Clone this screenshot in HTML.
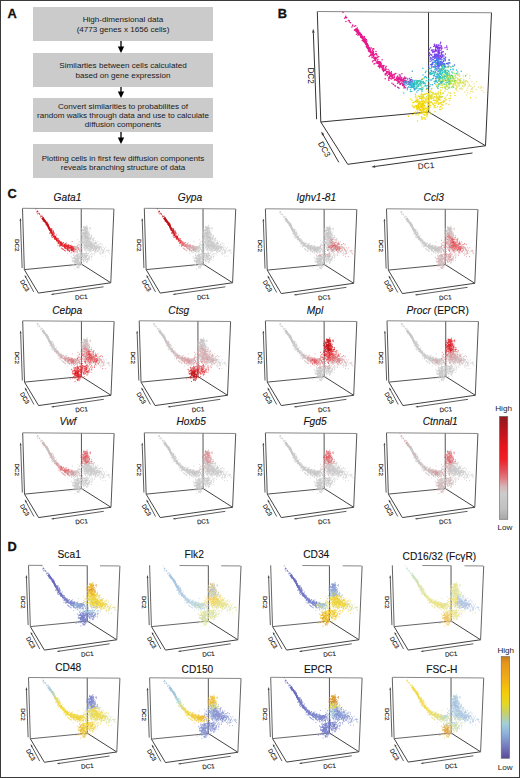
<!DOCTYPE html>
<html><head><meta charset="utf-8"><title>Figure</title>
<style>
html,body{margin:0;padding:0;background:#fff;}
body{width:520px;height:778px;overflow:hidden;font-family:"Liberation Sans",sans-serif;}
.frame{position:absolute;left:0;top:0;width:518px;height:776px;border:1px solid #3a3a3a;}
svg{position:absolute;left:0;top:0;display:block;}
</style></head><body>
<svg width="520" height="778" viewBox="0 0 520 778" font-family="Liberation Sans, sans-serif"><defs><path id="a1_2" d="M33.3 11.3h0m5.8 6.6h0m0.9-1.3h0m-2.8 1.8h0m1.3-0.7h0m0.4 0.3h0m0.5-0.8h0"/><path id="a1_1" d="M38.4 14.2h0m-1.4 0.6h0m-1.7-0.5h0m-3.2-3.9h0m6.3 7.3h0"/><path id="a1_0" d="M35.5 13.5h0m-0.9 2.1h0m3.6 2.7h0m0.4-0.3h0m-1.3 0.8h0m1.4-0.5h0"/><path id="a0_0" d="M28.4 4.8h0m-2.7-3.7h0"/><path id="a0_2" d="M29.4 6h0m1.7 3h0m-2-2.8h0m-1.7 0.6h0m0.8-1.1h0"/><path id="a0_1" d="M28.6 10.1h0m3.5-0.8h0"/><path id="a3_0" d="M49 35.3h0m-1.6-4.4h0m1.3 0.5h0m2.1 4.7h0m-3.1-4.6h0m-1.2-2.1h0m1.4 1.4h0m1.7 2.3h0m0.6 3.2h0m-0.5-1.5h0m-2.7-7.1h0m3 6.8h0m-2-4.1h0m-1.6-3.7h0m0.9 3h0m1.5 3.2h0m-1.8-5.1h0m-0.2 1.4h0m2 1.6h0m-1-0.4h0m2.4 3.8h0m-1.9-3.2h0m1.5 2.1h0m-2.6-3.8h0m2.4 3.1h0m-2.7-4.7h0m3.2 5.1h0"/><path id="a2_2" d="M44.4 25h0m-4.1-4.3h0m5.4 5.2h0m-0.5-0.8h0m-6.1-5.2h0m0.8 0.5h0m1.3 0.9h0m3.3 3.5h0m0.7 0.6h0m-5.1-5.5h0m4.1 4.4h0m-3.2-4.2h0m0.9 0.9h0m1.6 3.4h0m-4.2-5.7h0m3.5 3.3h0m-1.1-0.7h0m-0.1 0.4h0m0.5 0.7h0m-1.2-1h0m0.1 0h0m3.1 1.7h0m-0.6 0.4h0m-4.6-3.5h0m4.9 3.7h0m-2.5-3.5h0m4.5 6.3h0m-2.3-0.7h0m-3.1-5.8h0m1.5 1.5h0m1.4 2.7h0m0.5-1.4h0m-3.3-4.8h0m2.7 5.6h0m-1.7-2.7h0m4.2 4.9h0m-2.4 0h0m-2.4-6.5h0"/><path id="a4_1" d="M52.3 38.4h0m0.2-0.4h0m-1.3-2h0m1 2.1h0m0.1-1h0m-1.4-0.4h0m0.5-0.8h0m0.1 1.2h0m1.2 0.8h0m-1.4-0.9h0m1.1 0.1h0m-1.9-0.6h0m0.6 0.4h0m-0.1-0.7h0m-0.4 0.7h0m2 2.5h0m-1 0.5h0m4.6 4.8h0m-1.5 1.5h0m-3.1-6.2h0m3.7-0.6h0m0.1 0h0m-1.7 0.9h0m-0.3 0.9h0m5.9 1.4h0m-4.1 3.2h0m1-5.4h0m0.4-3h0m2.6 5.8h0m-4.1-1.5h0m-1.6 1.3h0m-1.1-2.8h0"/><path id="a3_2" d="M47.2 29.6h0m1.1 1.9h0m1.5 4.2h0m-0.7-7.7h0m-3.3-1.2h0m-0.2 2.4h0m3.3 1.5h0m-4-1.8h0m3.6 2.8h0m-2.4-3.6h0m4.3 5.8h0m-0.4-1.8h0m-3.2-4.3h0m1.3 1.1h0m0.8 2.4h0m0.4 1h0m-1.8-2.4h0m-0.5-4.1h0m2.7 3.7h0m-0.3 4.1h0m1.2 0.9h0m-1.3 0.3h0m-2.5-5h0m1.8 1.7h0m1.6 4.6h0m0-1.9h0m-2.7-5.2h0m-0.7 1.4h0m0.6 0.3h0m0-2h0m2.5 6.6h0m-2.1-7.5h0m0.9 1.9h0m-0.1 1.7h0m-3-2.5h0m4.3 5.5h0m-2.2-3.4h0"/><path id="a3_1" d="M48 29.7h0m-0.9-1.1h0m0.5 0.8h0m2.5 3.9h0m-0.3-0.2h0m0.5 1.5h0m-2.4-4.2h0m-2.2-2.3h0m0.7 1.5h0m1.5-2.5h0m0.9 6.2h0m1.9 1.8h0m-2.6-3.9h0m-0.7-0.4h0m-0.8-2.4h0m3.1 6.5h0m-2.1-4.9h0m-0.3-0.9h0m3 5.1h0m0.3 1.4h0m-0.8-2.1h0m-2-2.7h0m0.9 0.1h0m1.8 3.9h0m0.5-0.9h0m-2.5-1.1h0m1.8 3.4h0m-1.3-5.7h0m-0.1 0.4h0m1.5 2.1h0m0 2.1h0m-1-3h0m1 1.3h0m0.5 1.2h0m-1-1.5h0m-1.2-0.4h0"/><path id="a2_0" d="M42.8 21.6h0m0.4 1.7h0m-1.7-3.8h0m-0.3 3.5h0m2.5 0.6h0m0.9 1h0m0.3 1.6h0m-3.5-3.9h0m2.3 2.1h0m3.3 0.6h0m-7.7-6.9h0m0.5 1.7h0m3 4h0m-3.6-5.2h0m6.1 6.7h0m-5.5-5.5h0m-1.4-1.1h0m3.7 4h0m-1.8-1.5h0m2.9 2.5h0m0.5 0.5h0m-3.2-2.2h0m3.8 2.8h0m-3.6-1.1h0m-0.4-3.7h0m0 0h0m-1.4-0.6h0m3.8 3.3h0m-2.5-3.8h0m0.6 2.7h0m0.3-0.5h0"/><path id="a2_1" d="M41.7 21.7h0m-0.8-0.5h0m3.4 2.6h0m-3.6-4h0m4.5 5.8h0m-1.2-0.8h0m-2.6-4.1h0m1.2 2.1h0m2.1 3.6h0m0.5-1h0m-0.7 1.2h0m-0.7-2.7h0m0.9 1.5h0m-5.5-2.7h0m-0.2-4.3h0m0.2 1.9h0m0.8-0.1h0m1.8 1.3h0m1.8 4.1h0m-1-3.4h0m-2.8-2.8h0m4 6h0m1.7 1.3h0m-5.2-8.4h0m0.1 1.7h0m3.6 5.1h0m-4.8-6.5h0m3 4.4h0"/><path id="a4_2" d="M51.9 37.6h0m0.9 0.5h0m-1.3 0.2h0m-0.3-1.3h0m-0.4-0.8h0m1.2-0.2h0m-0.4 3.4h0m3.3 3.3h0m0.3-1.6h0m0.9 3.5h0m-0.5-0.5h0m0.5-2h0m2.8 0.3h0m-7 2.6h0m0.9-5.7h0m2.6 3.4h0m1.2 0.8h0"/><path id="a4_0" d="M51.6 36.6h0m-0.2 0.7h0m-1.2-0.6h0m1.2 0.1h0m2.6-0.2h0m-1.6 1h0m-0.2 0h0m0.3-1.2h0m-1.6 2.2h0m0.9-0.9h0m4.4 2.9h0m-2.4 0.2h0m4.5 1.5h0m-4.7-2.7h0m1.7-0.7h0m-1.6 1.5h0m5-0.4h0m-4.6 4.2h0m1.9-6.9h0m-0.7 3.8h0m1.9 2h0m-0.7 1.5h0m-3.7-0.6h0m1.7-1.1h0m0.4 0.3h0m0.5-5.7h0m0.5 5.9h0m-2-1.8h0"/><path id="a5_0" d="M57.2 46.6h0m0.1-0.7h0m2.7 4.8h0m3.2 1.9h0m-0.8 0.7h0m-1.4 1.8h0m2.8-3.1h0m-1.6 1.5h0m-4.2-6.2h0m2.6 0.8h0m0.9-3.2h0m-3.3 1.2h0m3.8 4h0m-4.5-2.5h0m-1.1-1h0m1.6-0.7h0m1.6 5.6h0m2.4 0.6h0"/><path id="a6_2" d="M63.8 55.9h0m1.7-1.9h0m3.1 9.2h0m-5-9.3h0m-0.9 0.9h0m3.2 2.6h0m4.3 2.8h0m-2.8-1.3h0m-0.7-4.9h0m2.5 7.7h0m-5.4-5.9h0m4.5 2.2h0m1.2 3.2h0m-5.6-6.5h0m4.1 4.2h0"/><path id="a7_1" d="M72.3 66h0m-0.4-4.5h0m-1.8 2.5h0m4.5-1.1h0m-0.9 1h0m-1.4-0.5h0m-0.2 3.3h0m2.9-2.7h0m-2.7-1.6h0m2 2h0m-2.7-1.8h0m1.2 1h0m-0.4-2.1h0m-1.1 6.1h0m0.8-6.5h0m1.3 5.8h0m-1.4-1.6h0m2.6 0.1h0m1 1.7h0m3.6 1.8h0m-1.3-6.7h0m2.2 4.6h0m-1.5-4.8h0m-3.8 4h0m0.8 0.8h0m4 0.6h0m-5.6 0.2h0m3.1-3.2h0m2 2.5h0"/><path id="a6_1" d="M70.8 60.1h0m-3.2-2.7h0m2 4h0m-1.4-3.6h0m0.1 0.7h0m-3.1-2.1h0m3-0.6h0m-0.4 7.4h0m1.1-8.3h0m-2.7 2.9h0m-0.6-3.2h0m0.7 1h0m-0.1 4.5h0m2.7-2.6h0m-2.9 1.6h0"/><path id="a6_0" d="M64.9 57.5h0m3.2 4.4h0m3.9-2.3h0m-6.4-3.5h0m-1.6-0.8h0m2.7 3.2h0m-1.5-0.3h0m-1.5-4.2h0m6.4 6.5h0m-4.1-4.9h0m3.2 6.3h0m-5.3-8.1h0m-1.6 2.5h0m8.5 1.6h0m-1.5 2.1h0m-3.9-3h0m0.2-1.8h0"/><path id="a5_2" d="M63.8 52.7h0m-2.5-0.7h0m-2.7-4.2h0m2.7 6.6h0m0.3-3.2h0m-3.2-4.5h0m1.6 5.4h0m0.4-1.4h0m2.7 0.4h0m-1.5-0.4h0m-1.3-1.1h0m-4.4-0.5h0m5.6 3.2h0m-2.5-5.8h0m0 3.9h0m-1.8-3.9h0m4.8 8h0m-0.9-3.5h0m-3.8-2.4h0m6.2 3.8h0m-3.1-6.3h0m0.2 5.3h0m1.2 2.8h0m3-6h0"/><path id="a7_2" d="M72.5 62.2h0m-0.9-1.1h0m3.4 2.8h0m-3.1-2.7h0m2.1 3.1h0m-2.9-1.6h0m3-2.5h0m-6.2 7.1h0m7.7-1.8h0m2.2 2.9h0m2.4-3.6h0m-3.7-1.5h0m0.2 3.1h0m-0.4 6.3h0m-0.3 0.4h0m-0.9-6.5h0m2-1.1h0m1.2 2.5h0"/><path id="a7_0" d="M73.3 61.5h0m-1.6 4.5h0m-0.1 3.1h0m3.1-5h0m-0.4-2.3h0m-0.6-0.5h0m2.1 2.2h0m-2.4-0.9h0m-0.4 2.2h0m4-2h0m0.1 5.7h0m0.5-0.5h0m2.6-2.9h0m-0.7 1.3h0m-4.4-0.6h0m4.9 1.4h0m-0.4-1.4h0m-4.9 6h0"/><path id="a5_1" d="M58.1 48.4h0m1.8-4h0m2.1 8.8h0m-3.6-4.3h0m3.4 5.8h0m-1.9-4.1h0m3 0.4h0m-5.2 0.9h0m5.6-0.9h0m-5.7-2.2h0m-0.9 3.7h0m6.4 0.8h0m0.3-2.8h0m-4.5-4.1h0m-3.6 3.9h0m5.8-0.1h0"/><path id="a8_1" d="M87.4 65.4h0m0.9 1.7h0m-6.2 0h0m-1.3 3.1h0m2 2.3h0m-2.6-0.7h0m4.2-5.9h0m-1.6-2.5h0m1 4.3h0m-2.5 2.4h0m6.6-1.1h0m-0.6 3.2h0m-4.4-7.3h0m-1 1.5h0m3.4 5.2h0m-4.6-2.6h0m6.1-0.5h0m-4.2-0.5h0m4.1 8.5h0m-3.3-4.5h0m3.1-2.8h0m-8.9 5h0m8.5-6.8h0m-4.3-0.4h0m6.3 9.3h0m-0.1-7.5h0m-2.4 4.5h0"/><path id="a8_2" d="M82 67.5h0m-1.8 1h0m6.5 2.9h0m2.4-0.6h0m-7.9-4.4h0m0 9.9h0m5-6.2h0m-1.1-1.8h0m-2 1h0m1.5-0.4h0m-0.6 2.6h0m-1-6.1h0m3.6 4.7h0m0.3 5.3h0m2.3-3.4h0m-4.6-9.7h0m3.5 7.9h0m-3 2.2h0m-3.2-9h0m2.3 6.1h0m-2.7-3.4h0m1 0.4h0m-2.2 0.3h0m6 6.2h0m-1.1-3.5h0m-3.9 1.2h0"/><path id="a8_0" d="M89.1 69.4h0m-5.4-2.1h0m-2.1 3h0m6.1-3.7h0m-5.5 4.8h0m0.7 1.5h0m2.5 1.1h0m-2.8-4.6h0m4.1 4.9h0m-6.4-6.4h0m5.6 0.1h0m0.5 2.2h0m-8.2 4.4h0m8.9 0.6h0m-6.7 0.6h0m7.5-5h0m-7.1-0.9h0m3.5-1.1h0m0.4-1.2h0m1.7-0.9h0m0.3 7.5h0m-4-6.8h0m3.4 5.6h0m2.6-6.5h0m-1.3 0.3h0m-6.5 2.9h0m0.2-1.6h0"/><path id="a9_2" d="M97.3 70.2h0m-2.4 5h0m2-1.3h0m-3.7 6.1h0m3.2-8.3h0m2.2 4.8h0m-0.5-4.7h0m-0.9 1.8h0m-3.2 0.5h0m-1.2-0.5h0m2.4 1.8h0m-1.9-3.4h0m-0.6-3.7h0m0.2 3.4h0m6.8 3.8h0m-2.4 2.2h0m-5.4-6.4h0m3.3-0.6h0m1.2 2.1h0m3.9 1.9h0m-3.1 0.6h0"/><path id="a9_1" d="M95.9 73.4h0m1.5 1.3h0m-0.5-1.7h0m2.9 0.6h0m-6.5 0h0m4.1-4.4h0m-3.6 4.6h0m-1.2-4.2h0m0.8 0.3h0m0.3 4.3h0m-2.4 1.1h0m2-1h0m6.3-3.3h0m-3.5 3.6h0m0.2-1.4h0m-2 2.9h0"/><path id="a9_0" d="M90.1 76.5h0m6.2-2.7h0m3.6-2.7h0m-6.6-3h0m2.9 5.1h0m-2.6-2.6h0m-2.2-0.6h0m0.6-2.9h0m3.3 5h0m1.3 1.1h0m-2.3 1.7h0m-3.5-2h0m5.6-0.3h0m-4.8-0.9h0m1.8-0.6h0m2-2.2h0m3.9 2.3h0m-4.7-0.9h0m-1.8-0.8h0m0.5-0.8h0m-1.7 2.2h0m1.4-0.2h0m1.2-2.4h0"/><path id="J0_2" d="M93.2 72.6h0m4.9-0.1h0m-4-6.4h0m3.2 6.3h0m-1.1 1.8h0m-3.1 4h0m1.4 1.9h0m3.9-2.8h0m-1.3-3.8h0m-5.2 2.3h0m2.7-1.9h0m-2.1-1.5h0m-0.6 0.1h0m-1.5-1.5h0m1.7 2.3h0m3.1-1.3h0m-8.7 9.5h0"/><path id="J1_1" d="M106 70.1h0m-0.3 6.4h0m-5.6-7.3h0m-0.5 11.4h0m14-7.3h0m-5.5 0.1h0m-2.4-6.2h0m2.1 4.6h0m1.7 4.9h0m-3.1-4.8h0m-4.7 5.7h0m-1.4-6.1h0m-1.6-2.7h0m8.4-2.6h0m-2.7 10.2h0m-4.2-4.3h0m10.1 1.8h0m-9.6 5.1h0m11.7-4h0"/><path id="J0_0" d="M90.4 70.9h0m5-2.3h0m-6.1 1.5h0m0.7 8.1h0m2.8-8h0m3.1 5.1h0m1.1-2.9h0m-9.5-0.8h0m7.1 3.7h0m2.6-1.7h0m-2.8-2.2h0m-0.4-0.2h0m1.4 2.4h0m-5.2 3h0m6.9-5.7h0m-3.8 5.1h0m3.5-5.9h0m-6.6 0.1h0m3.9 2.9h0m-0.2 0.9h0m-3.7-3.1h0m6.8 1.5h0m0.3 2.3h0m-2.7 1.3h0"/><path id="J1_0" d="M104.4 70.1h0m0.3 9.7h0m-4.3-10.4h0m5.2 1.7h0m-4.1 2.9h0m0.9-4.9h0m-0.9 4.2h0m2.3 1.1h0m3.5-2.8h0m2.6 5.5h0m-7.4-4.9h0m-2.9-0.2h0m0 4.9h0m1.6-2h0m6.4-0.5h0"/><path id="J1_2" d="M101.5 73.3h0m1.7-2.8h0m-2.8-0.1h0m2.9 6.9h0m2.4-6.9h0m-2.9 1.1h0m-3.9-1.8h0m6.2 8.4h0m-6-2.4h0m1.7-6.5h0m1.8 8.1h0m3.8-5.7h0m-3.4-2h0m-1-0.2h0m-0.4-0.2h0m0.5 2.9h0m-2.4-1.7h0m3.4 3.2h0m-4-2.6h0m0.1 2.3h0m4.7-1.7h0m-2.4-1.9h0m12.6 7.6h0m-13.1-7.1h0m3 8.1h0m-1.1-6.7h0m1.7 0.8h0m0.2-4.5h0"/><path id="J0_1" d="M81.8 76.8h0m13.8-1.5h0m1.6 3.3h0m-4.1-6.4h0m-2.2 0.5h0m-3.6 0.3h0m5.6-2.4h0m3.5 5.1h0m-6.5-8.8h0m7.7 10.9h0m-8.6-6.1h0m-0.4 2h0m6.4-13.9h0m1.7 17.3h0m-4-4.2h0m-5.4-2.3h0m3-2.4h0"/><path id="T1_2" d="M121.4 46.2h0m-1.3 4.6h0m-0.9-5.6h0m-1.2-2.5h0m5 1.2h0m1.2-1.3h0m2.5 3.8h0m-7-3.8h0m0.8 1.6h0m7 8.8h0m-7.7-1.6h0m-5.3-7.9h0m10.1 2.4h0m-3.8-1.2h0m3.1 1.9h0m-0.3-1.4h0m1.5-0.6h0m-9.5 1.6h0m3.8 12.2h0m-6.6-11h0m6.7 0.8h0m8.6-5.8h0m-6 9.9h0m-0.1-6.8h0m1-0.6h0m-2.3-0.1h0m-0.7-0.4h0m-1-1.2h0"/><path id="T1_0" d="M117.3 47.1h0m3.6 0.4h0m0.6-3.5h0m-2.5 0.3h0m6.6-1.1h0m-8.4 2.1h0m6 1.9h0m-11.2-3.1h0m8.2-0.6h0m-6.5 4.1h0m13-3.2h0m-9.3 11.2h0m0.5-11.9h0m-0.9 2h0m0.3-0.8h0m-1.2 3.4h0m1-3.6h0m3.2-0.1h0m0.1 8.8h0m-3.6-7.4h0m11.6-0.2h0m-16.6-1.4h0m10.1 9.5h0m-4-9.9h0m0.3 0.4h0m-1-1.7h0m5.8 1.3h0m3.2 6.1h0m0.3-1.1h0m-7.9-4.1h0m-5.5-1.8h0"/><path id="T0_1" d="M122.5 41.8h0m-4.1-3.7h0m0.8-3h0m10.7 2.6h0m-8.4 2.2h0m0.2-6.1h0m-0.9 6.5h0m0.1-4.1h0m-3.3-1.6h0m-5.3 7.1h0m10.6-5.9h0m1.3 1.7h0m-6.3 0.9h0m4.3 0.9h0m-2.1-3.5h0m2 1.5h0m5.6-1h0m1.7-1.8h0m-4.9 6.4h0m-6.3-3h0m3.3-1.3h0m-1 0.2h0m0.2 1.1h0m4-1.2h0m-5.7-1.8h0m7 5.4h0m3.6-4.4h0m-14.1 5h0m8.6-4.1h0"/><path id="T1_1" d="M120.4 46.9h0m-3.2-3h0m3.5 7.3h0m-0.7-5h0m7.9 1.5h0m-3.1-3.6h0m-3.4-1h0m-0.4-0.9h0m-0.4 1h0m-5.1 2h0m6.4 1h0m-0.2 3.2h0m-8.9 0.3h0m5.2-6.5h0m2.3-0.3h0m3.5 7.1h0m-3.8-4.6h0m0.3-1.4h0m2.7 3.4h0m-4.6-2.8h0m3.3 2.4h0m3.7-2.2h0m-3.5-2.5h0m4.8 5h0m-8.7-1.8h0m-4.8 0.4h0m4.6 1h0m-3.7-3.4h0m10.5 8.4h0m-8.6-6.7h0m8.3-2.4h0m-9.3 5.4h0m4.7-3.1h0m4.1 5.3h0m-2.1-8.2h0m3.6 1.7h0"/><path id="T0_0" d="M116 40.2h0m6.3 0.8h0m-4.9-6.9h0m1.9 1.8h0m3.2 0.8h0m1.7 4.6h0m-3.5-7.7h0m-0.1 6.9h0m-2-1.3h0m1.9-2.4h0m-5.6 2.6h0m3.4-1.8h0m2.8-1.8h0m-4.6-0.8h0m0.5-2.3h0m0.9 7.1h0m-0.6 0.4h0m6.3-1.4h0m-2.5 0.7h0"/><path id="T0_2" d="M113.4 36.2h0m5.9-0.6h0m-4.4 3h0m6.4 0.2h0m3.1-3.3h0m-3.2 5.7h0m-4.1-1.3h0m6.5-5.7h0m-1.8 3.4h0m2-3.3h0m-3.9 0.5h0m2.1 1.1h0m-9.9 1.8h0m2 1h0m8.2-2.2h0m-6.2 2.1h0m-4.4 2.3h0m7.1-6.3h0m-0.2 0.3h0m6.2 5.3h0m-2.5-4.2h0m0.7-3.7h0m-4.2 7.1h0m-0.4-0.4h0m4.1-2.7h0m-2.2-0.9h0m-1.3-2.2h0m-0.5 2.9h0m1.1 3.2h0m-0.4-0.3h0m2.1-5.1h0m2.1-3.1h0"/><path id="U0_2" d="M125.1 50.7h0m-13.8 4.1h0m14.3-2.2h0m-4.5 0.7h0m9.2-1.6h0m-15 1.3h0m8.7-4.8h0m-6.2 6.2h0m2.7 0.4h0m-5.2-3.9h0m13.8 1h0m-8.6-3.7h0m-6.2 4.9h0m9.4 4.9h0m-1.6-7.3h0m-7.8-3.9h0m17.7 4.4h0m-7.6 3.1h0m2.7-2h0m-5 2.2h0m0.8-3.8h0m-4.8-1.5h0m-1.7 6.2h0m6.9-2.9h0m-2.1 7.3h0m-0.4-4.8h0m16.4-1.4h0m-16.8-0.1h0m10.4 2.1h0m-6 1.7h0m-0.2-6.9h0m-2.9-2.4h0m-6.2 3.9h0m9.2-7.2h0m-3 6.8h0m-2.7 3.3h0m13-6.3h0m-9.7 2.4h0m-4.1-5.2h0m-0.6 7.9h0m7.2-2.6h0m-3.3-4.3h0m-5.8 8.6h0m1.7-4.9h0m3.1 6.1h0"/><path id="U0_1" d="M114.2 46.9h0m5.5 1.5h0m-0.9 4.2h0m0.1-1.4h0m13.8 0.4h0m-7.9 2.9h0m-4.5-7.7h0m4.2 6.2h0m-6.6 2.9h0m2.6-6.4h0m0.9 3.4h0m-9.6 4.1h0m11.6-3.7h0m-4.1-4.6h0m4.6 2.7h0m1.4 1.7h0m-9.1 7h0m15.4-11.5h0m-5.4 4.2h0m-7.5-1.4h0m-6.5 5.4h0m9.9-4.2h0m8.6 0.4h0m-10.8-0.4h0m2-1.4h0m2.3 0.4h0m2 2.1h0m0.5-1.6h0m-5.6-3.7h0m-6.7 7.3h0m-0.1-6.5h0m10.5-1.3h0m-5.3-0.3h0m-4.8 4.3h0m10.3 1.1h0m8.6 2.5h0"/><path id="U0_0" d="M120.7 51.8h0m7.5 3h0m-6.9-4.1h0m0.3-0.3h0m0.4 3.6h0m-2.9 2.7h0m2.3-5h0m5.3 3.2h0m-9.2-5h0m3.6 0.6h0m1.4 0.3h0m-4.2-1.6h0m13.1 2.4h0m-9.9 1.9h0m-5.6-2.7h0m15.7 3.8h0m-10 2.4h0m2-3.1h0m-0.2-1.7h0m-1.5 1.5h0m6.1-4.5h0m-10 2h0m1.3-4.5h0m0.6 5h0m6.3 5.9h0m-2.5-4.5h0m-9.4 1.4h0m-1.1-1.3h0m6.3-4.5h0m6.4 3.7h0m2-4.9h0m-6.5 7.9h0m-0.1-3.2h0m-3.6-2.9h0m2.4-0.9h0m-0.4 1h0m8 5.5h0m-4.6-4.9h0m2.5 3.1h0"/><path id="M0_0" d="M122.2 57.9h0m-14.1 3.1h0m13.8 7.6h0m2 1.1h0m-1.5-4.5h0m0.1 2.7h0m-8.9-11h0m-2.6 12.6h0m6.8-11h0m2.1 17h0m-2.6-20.2h0m5.1 10.6h0m-1-0.3h0m-2.2 3.8h0m-5.9-8.1h0m9.1 0.6h0m1.2 3.9h0m-7.7-4.3h0m1.1-11.2h0m-4.2 12.2h0m-0.2-1.8h0m10.2 0.4h0m-2.8 3.4h0m2.2 2.2h0m1.5-5h0m-9.4 6.9h0m10.3-10.8h0m-15.7 16.8h0m14.2-9.6h0m1.5-9.6h0m-2.7 12h0m-0.9-0.3h0m-7-8.2h0m8.4-1.8h0m-8.8 5.9h0m6.8 2.1h0m-6.6-3.6h0m-8.1 2h0m15.8-0.1h0m-1.5 7.7h0m-5.3-8.6h0m1.7-1h0m6.8 1.5h0m-0.4-3.8h0m-18.4 9h0m16.3 8.6h0m-2.6-16.2h0m2.7 2.3h0m-2.3 2.1h0m4.1 4.7h0m-17-12.9h0m18.9 0.6h0m-3.4 17.1h0"/><path id="M1_2" d="M135.6 54.7h0m-0.1 11.2h0m2.5-1.4h0m-13.3-6.1h0m10.1 5.7h0m-3.5 4.9h0m-0.8-0.8h0m0.2-12.1h0m0.9 7.9h0m-2.3 4.9h0m8.2-6.8h0m-8.4 10.5h0m1.3-10.6h0m-2.2 3.1h0m4.5 2.2h0m-7.4-6h0m0.6 1.9h0m-0.3-9.4h0m8.1 2.2h0m-4 9.1h0m-1.6 3h0m1.2 6.4h0m-1.5-5.8h0m-2-13.6h0m-0.1 12.7h0m7.5-2.2h0m-0.4 6.7h0m-2.3-7.9h0m1.4 8.8h0m-3.3-14.2h0m1 3.9h0m7.8 7.5h0m-1-15.4h0m-7.9 4.9h0m9.1 11.6h0m-11.6-2.9h0m4.4-13.5h0m-1.5 9.2h0"/><path id="M0_1" d="M123.2 71.2h0m-1.9-2.5h0m-12.6-9h0m15.3-0.4h0m-2.4-0.5h0m2.4 7.8h0m-9-4.8h0m3.7-9.3h0m1.6 13h0m-11.1 0.7h0m2 0.7h0m10.7-8.2h0m0.2-8.3h0m1.6 9h0m-1.8 8.8h0m-4.4-10.1h0m-0.6 11.9h0m-8-0.8h0m13.8-11.7h0m-1.2 14.9h0m2.8-10h0m-9 4.8h0m7.9-7.2h0m-0.5 6.8h0m-5.1-5.4h0m4.5 0.4h0m-5.9 2.4h0m8.2 6.1h0m-2.3-3.3h0m-9.9-4.9h0m7.5-0.6h0m-0.3 1.8h0m3.2 2.1h0m-8.3-6.5h0m5.7-0.6h0m-2.1 3.3h0m0.2 7.3h0m3.7-7.1h0m1.1-0.2h0m-0.4-1.8h0"/><path id="M1_0" d="M133.1 67h0m2.7-0.5h0m-8.6 6.2h0m7.3-12.2h0m-1.6 5.1h0m-4.4-0.6h0m9.7 4h0m-13-10h0m2.2 1.6h0m-0.1-4.4h0m-2.2 5.4h0m1.8-4.5h0m-1.8 9.1h0m2.2-5.4h0m2 1h0m-3.8-6.2h0m0.3 4.9h0m3.7 5.3h0m0.6 5.2h0m-4.2-6.3h0m0.2 4.7h0m9.5-8h0m-5.4 5.3h0m-1.8 2.4h0m-2.5-8.8h0m6.3 3h0m-6.8 6.7h0m3.3-14.3h0m-3.1 10.2h0m5.5 2.9h0m8.1-6.8h0m-7.7 0.5h0m-4.3 3.9h0m-2.4 3.8h0m3.7-9.6h0m3 11.6h0m-0.5-5h0m-1.1 3.4h0"/><path id="M0_2" d="M124.4 58.1h0m-2.5 5.6h0m-4.2-2.9h0m-3.2-0.9h0m6.6 9.5h0m0.2-1h0m-2.7-1h0m5-8h0m0.3 12.3h0m0.5-8h0m-3.7-3.7h0m1.1 7.7h0m-14-2.7h0m0.7 0.2h0m16 5.3h0m-7.1-7.8h0m0.7-2.4h0m-2.1 6.5h0m2.3 0.3h0m1.2-0.9h0m-2.1 5.5h0m-0.2-7.4h0m5.2 8.3h0m-2-10.3h0m-1.5 2.9h0m4.6 4.8h0m-2.8-6.8h0m1.9 6.5h0m-3.4 0.1h0m-2.9-5.8h0m3.7 2.2h0m-1.7-9.3h0m0.1 13.4h0m-3.1 2.9h0m7.3-7.4h0m-8.7-6.7h0m8.7 6.9h0m-9.7 2.6h0"/><path id="M1_1" d="M127.5 67.2h0m1.2 3.8h0m-1 4.6h0m0.9-17h0m-1.3 0.3h0m5.2 11h0m-4.9-5.6h0m0.2-2.7h0m0.2-1.6h0m-0.9-5.9h0m-2.4 12.7h0m6.7 2.9h0m7.9-11.3h0m-11.6 6.5h0m6.3-1.2h0m-1.3 5.1h0m-2.7-7.8h0m-3.6 4.9h0m9.1-11.2h0m-8.3 10.1h0m2.8-1.2h0m-4.4-5.9h0m17 10.7h0m-8.2-4.5h0m13.9 0.4h0m-23.1-3.3h0m2.4-0.9h0m2.9-1h0m-5.4 11.5h0m6.4-10.5h0m-3.2 1.7h0m4.9-3.6h0m-3.7 4.6h0m-4.1-7h0m9.9 9.1h0m0.3-7.4h0m4.7 5.2h0m-15.2 4.1h0m7-5.3h0m3.7-3.2h0m-4.2 10.1h0m8.8-7.8h0m3.5-0.9h0"/><path id="R1_1" d="M139.8 73.9h0m4.3 2.3h0m1.1 1.4h0m-2.3-10.7h0m3.7-1.9h0m-0.3 10.4h0m-5.2-7.1h0m0.3 3.4h0m-3.3 1h0m2.5 7h0m-0.8-6.5h0m8.3-1.8h0m-7.7-2.9h0m0 5.4h0m2.4-1.8h0m-5 1.6h0m12.7-3.3h0m-11.4 8.6h0m2.6-6.5h0m2.5-5.6h0m-3.2 4.6h0m2.4-2.5h0m2 2.2h0m-3.4 2.6h0m4.3-5.9h0m-7.2 9.8h0"/><path id="R0_0" d="M136.5 69.9h0m-15-2.3h0m12 4.5h0m-3.7 2.8h0m7.8-4.8h0m-16.1-0.4h0m9.3-0.9h0m-5 0.5h0m9.8 5.4h0m-8.1-11.8h0m0.2 12.6h0m3.4-9.2h0m1.9-0.6h0m-4.8 1.6h0m8.4 0.3h0m-6.7-1.1h0m4.6 5.4h0m-0.5-5.1h0m0.8 2.6h0m1.2 3.9h0m-5.3-7h0m5.1 8.8h0m-0.6-9.6h0m-2.8 5.2h0m-13.2 3.9h0m15.3-5.5h0m-4.6 8.9h0m5.8-3.9h0m-6.3-0.3h0m3.9-3.3h0m-7.7 2.2h0m11.7-5.8h0m-8.9 0.8h0m3.6-2.7h0m-7.5 2.4h0m8-2.1h0m2 3.2h0"/><path id="R1_2" d="M142.4 64.5h0m-0.4-2.1h0m-4 1.7h0m7 7.2h0m-1.9-2.4h0m-3.7 6.4h0m-0.7-9.2h0m1.9 1.1h0m7.3 2.8h0m-1.2 1.7h0m-4.2 5.5h0m2.8-2.6h0m-6.6-4.2h0m6.8 0.9h0m-2-1.3h0m2.4 0.6h0m2.2 2.3h0m-9.4 4h0m4.3-5.8h0m-2.9 0.1h0"/><path id="R0_2" d="M134.6 75.9h0m-1.9-3.6h0m3.7 3.6h0m-7.6-2.6h0m2.6 3.3h0m-6.3-19.1h0m8 8h0m4.1 3.4h0m-7.3-0.4h0m4.8 6.8h0m-9.2-10.2h0m-0.2 3.6h0m10.5-1.7h0m-3.1-3.3h0m0.2 6.8h0m-1.1 0.5h0m-10.6 1.8h0m11.1 3.5h0m2.8-6.7h0m-3.4 3.5h0m-2.6-8.2h0m-0.9 12.3h0m5-6.7h0"/><path id="R1_0" d="M140.4 61.9h0m11.7 12.1h0m-11.3-1.9h0m1.6-2.3h0m-4.7 1.1h0m12.1-8.3h0m-9.9 0.7h0m-0.4 11.8h0m-1.1-1.5h0m2.4-5.6h0m12.9 6.8h0m-12.9-10.6h0m-0.8 5h0m4.2 8.3h0m-2-6.7h0m-3.8 0.8h0m10.1-2.3h0m-10.4-5.9h0m3.7 10.1h0m-3.7-6.9h0m9.2 7.9h0m-3.4-2.7h0m-5-2.6h0m2.8 5.6h0m-0.9-3.8h0m-2.3 6.7h0m2-13.9h0m12 0.4h0"/><path id="R0_1" d="M132 61.7h0m2.2 8.6h0m-7.9-3.8h0m7.2 5.9h0m-3.9 1.4h0m-6.9-4.5h0m10.2-0.2h0m3.1 6h0m-10.2-2.9h0m-3.1-2.8h0m3.3 3.6h0m0.9 3.3h0m0.1-6.7h0m10.5 2.7h0m-1.5-3.7h0m0.3 3.9h0"/><path id="O0_2" d="M155.2 76.1h0m-4.2-1h0m10.2 0.7h0m-5.8 1.6h0m8.6-1.1h0m-11.7-9.3h0m6.8 11h0m-11.7-3.7h0m2 4.8h0m-1.8 1.4h0m2.5-3.8h0m-3.6-7.7h0m10.3 3.5h0m-13.5 5h0"/><path id="O0_0" d="M154.7 70.3h0m0.1 9.8h0m-3-6.8h0m-5.3-4.7h0m13 1.7h0m4.3 4.4h0m-9.5 2.5h0m1.6 3.3h0m-5.2-9h0m15.1 4.7h0m-13.2 5.5h0m-6.6-17.1h0m12.7 21.4h0m-9.6-2.6h0m17.6-2.4h0"/><path id="O0_1" d="M162.9 76.4h0m1.8 2.7h0m-15.7-9.8h0m-2.3 3.4h0m7.4 4.8h0m-3.8 3.8h0m-0.1-11.3h0m-10.5 5.8h0m6.2-5.2h0m7.4 9.2h0m3.5-4.9h0"/><path id="L1_1" d="M125.1 92.9h0m-4.2-6.3h0m3.5 6.9h0m-12 1.1h0m9.3-2.3h0m1.8 5.6h0m-22.1-5.7h0m15.5 2h0m-10.3 2.3h0m7-9.8h0m-6 3.6h0m-12.9-1.6h0m5.1 1.8h0m27.6-0.3h0m-13.4-3h0m8.7 9.1h0m2-5.8h0m-8.4 2.5h0m-9.3-6.4h0m-2.8 3.3h0m8 4.7h0m-1.7-3.8h0m14.3 2.4h0m-11 9.4h0m5.7-11.5h0m-16.5 4h0m25.2-6.5h0m4.2 0.5h0m-14-0.2h0m8.9-1.8h0m-18.6 1.1h0m17.1 5.5h0m-21.6-7.1h0m18 0.3h0m-0.8 4.4h0m-24.5 5h0m27.5-5.2h0m1.9-1.8h0m-18.8 0.3h0"/><path id="L0_2" d="M110.7 84.1h0m6.3 0.9h0m8.3-8.8h0m-16.1 1.7h0m22.5-2.6h0m-17.4 9.9h0m1.7-3.7h0m17.4 0.3h0m-21.3-9.3h0m-0.9 11.4h0m13.1 1.6h0m-11.8-5.1h0m8.7 2.1h0m1.5 2.5h0m-11-3h0m-9.9 3.2h0m2.5 0.4h0m8.5 0h0m-6.2-2.3h0m19.5-1.7h0m-4.2 4.2h0m7.7-10.5h0m-17.5 9.1h0m1.2 1.5h0m-10.5-0.9h0m19.6 0.2h0m-15-2.5h0m16.1-6.8h0m0.1 9.8h0m-25.6-2.9h0m25.9-9.4h0m-12.7 9h0m-1.9 2.8h0m15.8-0.2h0m0.2 0.2h0"/><path id="L0_0" d="M119.7 84.9h0m12-3.7h0m-17.7 3.2h0m-3.3-2h0m1.3 3.9h0m9.7-1.2h0m15.5-3.6h0m-17.8 2h0m-7.2 1h0m6.2-11.4h0m-13.4 11.4h0m13.8-1.8h0m-17.6 2.1h0m22-3.1h0m-17.2 2.7h0m0.3 0.8h0m8.4-0.7h0m5.4-2.8h0m-3.5 1h0m-11.1-15.6h0m17.8 11.7h0m-10.3 5.4h0m10-3.1h0m-18.6 3.3h0m25.7-0.9h0m-8.2 0.8h0m-2.7 0.9h0m34.1 1.1h0m-30.7-1.1h0m-21.3-0.4h0m9.9-1.7h0m26.5 0.9h0m-22.6-2.7h0m-8.6 5.1h0m11.8-0.6h0m-14-3.7h0m9.8-1.4h0m8.8 0h0m-8.6 3.3h0m-10.6-0.8h0m17.6-2.7h0m-6.5 5.5h0m5.3-12.4h0m-14.3 10.9h0m15.2 2h0m-2.9-4.1h0"/><path id="L1_2" d="M124.9 96.7h0m-7.8-5.2h0m-8.2 7.4h0m-0.1-10.2h0m14.1-0.1h0m-6.3-2h0m5.8 11.4h0m-4.5-3.9h0m-6.9-5.7h0m0.6 9.9h0m-13.7-8.4h0m28.9-0.4h0m6.4-2.8h0m-19 4h0m17.5 2.4h0m-2.9-5.2h0m-22.4 5.6h0m9.7-4.5h0m-2-1.9h0m3 1.7h0m-10 2.3h0m18.7-0.4h0m-16.8-1.8h0m-4.6-1.4h0m15.9 2.4h0m-3.9-1.5h0m3.8-1.8h0m-10.7 0h0m-4.9 0.3h0m5.5 4.7h0m11 0.6h0m-22.3-3.6h0m11.2 6.7h0m-4.3-1.4h0m17.8 1.2h0m-12.4-1.8h0m4.1-1.5h0m0.6-5h0m-11.8 3.1h0m-2 1.5h0m19.2-4.3h0"/><path id="L1_0" d="M93.4 87.5h0m25.2 4.5h0m3.9-0.2h0m-20.3 1.3h0m-3.6-3.7h0m12.4 0.6h0m2.6 0.2h0m7.3 2.6h0m-21.3-2.2h0m10.5-3h0m-0.6 2.8h0m22.3-3.3h0m-10.4 0.8h0m0.5 0.5h0m-4.9 6.2h0m-3.7-0.5h0m-10.9-2.4h0m10.1 7.8h0m-0.6-6.8h0m-4.7 1.6h0m9.6 1.8h0m7.1-3.7h0m-18.1-2.7h0m17.4 1.6h0m-7.6 1.5h0m10.5-2.2h0m-20.7 0.1h0m-1.8 0.9h0m15.9-5h0m-0.8 9.6h0m0.8-8h0m9.2 4.1h0m-16.3-0.9h0m9.7-3.5h0m-15.9 4.1h0m5.5-2.5h0m8.7 5.5h0m-9-2.1h0m7.5-3h0m1.7-1.1h0"/><path id="L0_1" d="M119.3 82.4h0m-21.3 3.1h0m15.6-2h0m19.4 0.7h0m-15-2.5h0m9.7-2.3h0m-17.1 0.4h0m17.7 6h0m-10.1-3.5h0m1.6 4.1h0m-5.3-9.4h0m6.7 9.2h0m-6.3-2.9h0m10.5-1.2h0m4.8-12.6h0m-19 12.7h0m0.1 3h0m2.3-0.6h0m-0.3-5h0m11.8-5.3h0m-20.2 8.6h0m4.5-1.1h0m-3.6-6.6h0m0 10.8h0m0.7-3.1h0m-1.6 2.5h0m7.9-0.3h0m10.7-1.9h0m-8.4-1.9h0"/><path id="D0_1" d="M105.2 94.3h0m0 0.1h0m-2.3 4.7h0m4.2 1h0m-3.7-2.1h0m0.3-4.1h0m2.3 4.7h0m-0.3 0.3h0m-1.8 0.3h0m0.1-6.6h0m1.4 1.4h0m-1 6.6h0m-3.7-7.1h0m4.8 4.8h0m-0.6-5.3h0m-3.7 0.2h0"/><path id="D1_0" d="M99.6 86.6h0m10.4 9.5h0m-0.1 3.4h0m-10.7-10.5h0m0.4 8.4h0m0.6 2.2h0m0.6 2.6h0m5.8 0.5h0m-6.2-7.3h0m-0.2 14h0m6.9-5.8h0m-7.7-7.4h0m-1.4-1.9h0m8.6 11.6h0m-4.7-14.7h0m5.9-0.6h0m1.4 11.6h0m-3.3-13.3h0m-8.3 1.5h0m13 3.1h0m-1.2 5.9h0m-1-8h0m1.2 13.8h0m-1.1-1.5h0m-9.2-8.6h0m-0.8-10.7h0m3.8 2.7h0m-2.7 7.6h0m-4.1 8.5h0m13.6-3.8h0m-2.8-7.9h0m4.7-3.7h0m-1.6 9.4h0m-1.5 10.7h0m-1.3-4.9h0m-6.1-14.9h0m4.1-1.2h0m0.4 20.3h0"/><path id="D1_2" d="M106.4 91.4h0m-8.2 9.8h0m2.3-3.5h0m13-7.3h0m-13.5 6.9h0m0.3 0.1h0m-2.7-2.1h0m2.6-5h0m6.9 10.8h0m5.5-5.4h0m-1-4h0m-15.7 3.7h0m12.2-7.8h0m-7.7 1.5h0m1.6 0.8h0m-2.6 4.1h0m9.2-11.4h0m-5.3 19h0m6.2-0.3h0m0.5 1.9h0m-2.1-6.6h0m-3.3-8.1h0m6.7-2.1h0m-8.2 0.4h0m3.2 14.4h0m-15.2 3.6h0m5.9-3.5h0m9.9-10.9h0m-2.6 11.5h0m13.4-1.6h0"/><path id="D0_0" d="M104.7 94.5h0m1.6-0.1h0m-1.7 0.2h0m-1.3-2h0m-0.7 6.2h0m-1.3-4.1h0m3.5 2.6h0m0.7-1.1h0m1.8 1.7h0m-2.5-3.1h0m-4.1 0.4h0m0.3-1.9h0m2.7 1.3h0m4 2.1h0m-3.8-0.5h0"/><path id="D1_1" d="M106.3 90.7h0m3.6 8.5h0m-5.3 8.5h0m-9.2-16.4h0m14.6 6.2h0m-14.9-3.6h0m17.4 7.5h0m-13-3.8h0m-1.3 3h0m6.5 5.3h0m-6-2.4h0m5.6 1.4h0m3.4 1.8h0m-6.8-3.5h0m2.4-13.2h0m10.5-2.6h0m-8.3 2.5h0m6.1-0.1h0m-1.2 12.3h0m-2.1-1.7h0m-4.9-8.6h0m2.2 9.3h0m-4.6-10.9h0m3 15.4h0m7.3-9h0m-10.9 1.2h0m-3.8-7.1h0m13.3 7.3h0m-13.6-2.8h0"/><path id="D0_2" d="M106.9 93.8h0m-1.5-1.8h0m0.4 4.6h0m-0.3-3.5h0m-0.9 7.4h0m0.9-3h0m1.1 0.2h0m0.1 2.9h0m-5.5-4.2h0m0.1-0.2h0m3.1-2.5h0m-2.4 3.3h0m4 2.6h0m-3.4-3.9h0m1.3 3.5h0m-1.3-4.1h0m4.9-0.7h0m-1.5 5.2h0m-4.9-7.5h0m2.4 3h0m0.8 0h0m-2.2 3.5h0"/></defs><text x="7.6" y="18.2" font-size="12.8" font-weight="bold" fill="#111" stroke="#111" stroke-width="0.3">A</text><rect x="33" y="7" width="180" height="34" fill="#cbcbcb"/><text x="123" y="21.9" font-size="8.1" text-anchor="middle" fill="#1a1a1a">High-dimensional data</text><text x="123" y="31.9" font-size="8.1" text-anchor="middle" fill="#1a1a1a">(4773 genes x 1656 cells)</text><path d="M121 41V48" stroke="#000" stroke-width="1.3"/><path d="M117.8 46.5L124.2 46.5L121 53Z" fill="#000"/><rect x="33" y="53" width="180" height="34" fill="#cbcbcb"/><text x="123" y="68.0" font-size="8.1" text-anchor="middle" fill="#1a1a1a">Similarties between cells calculated</text><text x="123" y="77.7" font-size="8.1" text-anchor="middle" fill="#1a1a1a">based on gene expression</text><path d="M121 87V93" stroke="#000" stroke-width="1.3"/><path d="M117.8 91.5L124.2 91.5L121 98Z" fill="#000"/><rect x="33" y="98" width="180" height="34" fill="#cbcbcb"/><text x="123" y="108.8" font-size="8.1" text-anchor="middle" fill="#1a1a1a">Convert similarities to probabilites of</text><text x="123" y="117.9" font-size="8.1" text-anchor="middle" fill="#1a1a1a">random walks through data and use to calculate</text><text x="123" y="127.1" font-size="8.1" text-anchor="middle" fill="#1a1a1a">diffusion components</text><path d="M121 132V139" stroke="#000" stroke-width="1.3"/><path d="M117.8 137.5L124.2 137.5L121 144Z" fill="#000"/><rect x="33" y="144" width="180" height="34" fill="#cbcbcb"/><text x="123" y="160.8" font-size="8.1" text-anchor="middle" fill="#1a1a1a">Plotting cells in first few diffusion components</text><text x="123" y="170.4" font-size="8.1" text-anchor="middle" fill="#1a1a1a">reveals branching structure of data</text><text x="277.8" y="18.0" font-size="12.8" font-weight="bold" fill="#111" stroke="#111" stroke-width="0.3">B</text><path d="M320.80 122.00L347.70 164.30M428.70 112.00L485.50 145.75M347.70 164.30L485.50 145.75" fill="none" stroke="#333" stroke-width="1.0"/><path d="M317.30 11.50L320.80 122.00M320.80 122.00L428.70 112.00" fill="none" stroke="#333" stroke-width="1.0"/><path d="M428.50 11.80L428.70 112.00" fill="none" stroke="#333" stroke-width="1.0"/><path d="M491.50 12.70L485.50 145.75" fill="none" stroke="#333" stroke-width="1.0"/><path d="M317.30 11.50L491.50 12.70" fill="none" stroke="#888" stroke-width="1.1"/><path d="M316.60 119.20L313.35 32.80" stroke="#333" stroke-width="1.0" fill="none"/><path d="M313.20 28.80L314.65 32.75L312.05 32.85Z" fill="#333"/><path d="M338.80 162.30L323.18 134.97" stroke="#333" stroke-width="1.0" fill="none"/><path d="M321.20 131.50L324.31 134.33L322.06 135.62Z" fill="#333"/><path d="M472.50 153.00L375.21 166.45" stroke="#333" stroke-width="1.0" fill="none"/><path d="M371.25 167.00L375.03 165.16L375.39 167.74Z" fill="#333"/><text x="0" y="0" transform="translate(311.00,75.60) rotate(90)" font-size="8.2" text-anchor="middle" dy="0.36em" fill="#111">DC2</text><text x="0" y="0" transform="translate(324.50,149.00) rotate(60)" font-size="8.2" text-anchor="middle" dy="0.36em" fill="#111">DC3</text><text x="0" y="0" transform="translate(426.00,165.60) rotate(-5)" font-size="8.2" text-anchor="middle" dy="0.36em" fill="#111">DC1</text><g transform="translate(317.30,11.50) scale(1,1)" stroke-width="1.5" stroke-linecap="round" fill="none"><use href="#a1_2" stroke="#e6198c"/><use href="#a1_1" stroke="#e6198c"/><use href="#a1_0" stroke="#e6198c"/><use href="#a0_0" stroke="#e6198c"/><use href="#a0_2" stroke="#e6198c"/><use href="#a0_1" stroke="#e6198c"/><use href="#a3_0" stroke="#e6198c"/><use href="#a2_2" stroke="#e6198c"/><use href="#a4_1" stroke="#e6198c"/><use href="#a3_2" stroke="#e6198c"/><use href="#a3_1" stroke="#e6198c"/><use href="#a2_0" stroke="#e6198c"/><use href="#a2_1" stroke="#e6198c"/><use href="#a4_2" stroke="#e6198c"/><use href="#a4_0" stroke="#e6198c"/><use href="#a5_0" stroke="#e6198c"/><use href="#a6_2" stroke="#e6198c"/><use href="#a7_1" stroke="#e6198c"/><use href="#a6_1" stroke="#e6198c"/><use href="#a6_0" stroke="#e6198c"/><use href="#a5_2" stroke="#e6198c"/><use href="#a7_2" stroke="#e6198c"/><use href="#a7_0" stroke="#e6198c"/><use href="#a5_1" stroke="#e6198c"/><use href="#a8_1" stroke="#c02cb0"/><use href="#a8_2" stroke="#e6198c"/><use href="#a8_0" stroke="#e6198c"/><use href="#a9_2" stroke="#36c0c8"/><use href="#a9_1" stroke="#3cb4d4"/><use href="#a9_0" stroke="#9a3cd0"/><use href="#J0_2" stroke="#30c8b4"/><use href="#J1_1" stroke="#30c0d8"/><use href="#J0_0" stroke="#2ec4cc"/><use href="#J1_0" stroke="#26c8c8"/><use href="#J1_2" stroke="#3cc8b0"/><use href="#J0_1" stroke="#3aa0e0"/><use href="#T1_2" stroke="#8a2be8"/><use href="#T1_0" stroke="#7c3ae8"/><use href="#T0_1" stroke="#9430e6"/><use href="#T1_1" stroke="#5a5cf0"/><use href="#T0_0" stroke="#8a2be8"/><use href="#T0_2" stroke="#7a38ea"/><use href="#U0_2" stroke="#5a52ec"/><use href="#U0_1" stroke="#3a94e2"/><use href="#U0_0" stroke="#4a68f0"/><use href="#M0_0" stroke="#28c4c8"/><use href="#M1_2" stroke="#9ad850"/><use href="#M0_1" stroke="#30cca8"/><use href="#M1_0" stroke="#40d0a0"/><use href="#M0_2" stroke="#3aa8e0"/><use href="#M1_1" stroke="#26c2c8"/><use href="#R1_1" stroke="#f0e890"/><use href="#R0_0" stroke="#b8e040"/><use href="#R1_2" stroke="#c8e050"/><use href="#R0_2" stroke="#80d870"/><use href="#R1_0" stroke="#e8e860"/><use href="#R0_1" stroke="#d8e830"/><use href="#O0_2" stroke="#e8e8a0"/><use href="#O0_0" stroke="#f0e890"/><use href="#O0_1" stroke="#f4e470"/><use href="#L1_1" stroke="#f0e040"/><use href="#L0_2" stroke="#c8dc40"/><use href="#L0_0" stroke="#f0dc18"/><use href="#L1_2" stroke="#f4d820"/><use href="#L1_0" stroke="#f2dc10"/><use href="#L0_1" stroke="#e8e030"/><use href="#D0_1" stroke="#f2d400"/><use href="#D1_0" stroke="#f4d800"/><use href="#D1_2" stroke="#f2d200"/><use href="#D0_0" stroke="#f2d400"/><use href="#D1_1" stroke="#f0e020"/><use href="#D0_2" stroke="#f2d400"/></g><text x="7.4" y="197.6" font-size="12.8" font-weight="bold" fill="#111" stroke="#111" stroke-width="0.3">C</text><text x="67.5" y="200.8" font-size="10.2" text-anchor="middle" fill="#111" stroke="#111" stroke-width="0.1"><tspan font-style="italic">Gata1</tspan></text><path d="M24.33 269.61L38.38 293.07M81.32 264.06L110.79 282.78M38.38 293.07L110.79 282.78" fill="none" stroke="#383838" stroke-width="0.95"/><path d="M22.50 208.30L24.33 269.61M24.33 269.61L81.32 264.06" fill="none" stroke="#555" stroke-width="1.0"/><path d="M81.22 208.47L81.32 264.06" fill="none" stroke="#555" stroke-width="1.0"/><path d="M113.92 208.97L110.79 282.78" fill="none" stroke="#555" stroke-width="1.0"/><path d="M22.50 208.30L113.92 208.97" fill="none" stroke="#888" stroke-width="1.0"/><path d="M22.13 268.05L20.46 220.90" stroke="#333" stroke-width="0.8" fill="none"/><path d="M20.36 217.90L21.36 220.86L19.56 220.93Z" fill="#333"/><path d="M33.73 291.96L25.96 277.52" stroke="#333" stroke-width="0.8" fill="none"/><path d="M24.54 274.88L26.75 277.09L25.17 277.94Z" fill="#333"/><path d="M103.58 286.80L53.65 294.14" stroke="#333" stroke-width="0.8" fill="none"/><path d="M50.68 294.57L53.52 293.25L53.78 295.03Z" fill="#333"/><text x="0" y="0" transform="translate(17.00,245.30) rotate(90)" font-size="6.2" text-anchor="middle" dy="0.36em" fill="#111" stroke="#111" stroke-width="0.12">DC2</text><text x="0" y="0" transform="translate(24.70,285.50) rotate(60)" font-size="6.2" text-anchor="middle" dy="0.36em" fill="#111" stroke="#111" stroke-width="0.12">DC3</text><text x="0" y="0" transform="translate(81.30,296.90) rotate(-5)" font-size="6.2" text-anchor="middle" dy="0.36em" fill="#111" stroke="#111" stroke-width="0.12">DC1</text><g transform="translate(22.50,208.30) scale(0.5224,0.5548)" stroke-width="1.6" stroke-linecap="round" fill="none"><use href="#a1_2" stroke="#d2171e"/><use href="#a1_1" stroke="#be141a"/><use href="#a1_0" stroke="#be141a"/><use href="#a0_0" stroke="#be141a"/><use href="#a0_2" stroke="#d2171e"/><use href="#a0_1" stroke="#be141a"/><use href="#a3_0" stroke="#c8151c"/><use href="#a2_2" stroke="#d8181f"/><use href="#a4_1" stroke="#d0161e"/><use href="#a3_2" stroke="#dc1820"/><use href="#a3_1" stroke="#c8151c"/><use href="#a2_0" stroke="#c4151b"/><use href="#a2_1" stroke="#c4151b"/><use href="#a4_2" stroke="#e41a22"/><use href="#a4_0" stroke="#d0161e"/><use href="#a5_0" stroke="#d8181f"/><use href="#a6_2" stroke="#e6272f"/><use href="#a7_1" stroke="#e01921"/><use href="#a6_1" stroke="#dc1820"/><use href="#a6_0" stroke="#dc1820"/><use href="#a5_2" stroke="#e6222a"/><use href="#a7_2" stroke="#e72d35"/><use href="#a7_0" stroke="#e01921"/><use href="#a5_1" stroke="#d8181f"/><use href="#a8_1" stroke="#e61a22"/><use href="#a8_2" stroke="#e7353d"/><use href="#a8_0" stroke="#e61a22"/><use href="#a9_2" stroke="#e73d45"/><use href="#a9_1" stroke="#e6222a"/><use href="#a9_0" stroke="#e6222a"/><use href="#J0_2" stroke="#dca4a8"/><use href="#J1_1" stroke="#de9398"/><use href="#J0_0" stroke="#e61a22"/><use href="#J1_0" stroke="#e8424a"/><use href="#J1_2" stroke="#cacaca"/><use href="#J0_1" stroke="#e7353d"/><use href="#T1_2" stroke="#cacaca"/><use href="#T1_0" stroke="#cacaca"/><use href="#T0_1" stroke="#cacaca"/><use href="#T1_1" stroke="#cacaca"/><use href="#T0_0" stroke="#cacaca"/><use href="#T0_2" stroke="#cacaca"/><use href="#U0_2" stroke="#cacaca"/><use href="#U0_1" stroke="#cacaca"/><use href="#U0_0" stroke="#cacaca"/><use href="#M0_0" stroke="#cacaca"/><use href="#M1_2" stroke="#cacaca"/><use href="#M0_1" stroke="#cacaca"/><use href="#M1_0" stroke="#cacaca"/><use href="#M0_2" stroke="#cacaca"/><use href="#M1_1" stroke="#cacaca"/><use href="#R1_1" stroke="#cacaca"/><use href="#R0_0" stroke="#cacaca"/><use href="#R1_2" stroke="#cacaca"/><use href="#R0_2" stroke="#cacaca"/><use href="#R1_0" stroke="#cacaca"/><use href="#R0_1" stroke="#cacaca"/><use href="#O0_2" stroke="#cacaca"/><use href="#O0_0" stroke="#cacaca"/><use href="#O0_1" stroke="#cacaca"/><use href="#L1_1" stroke="#cacaca"/><use href="#L0_2" stroke="#cacaca"/><use href="#L0_0" stroke="#cacaca"/><use href="#L1_2" stroke="#cacaca"/><use href="#L1_0" stroke="#cacaca"/><use href="#L0_1" stroke="#cacaca"/><use href="#D0_1" stroke="#cacaca"/><use href="#D1_0" stroke="#cacaca"/><use href="#D1_2" stroke="#cacaca"/><use href="#D0_0" stroke="#cacaca"/><use href="#D1_1" stroke="#cacaca"/><use href="#D0_2" stroke="#cacaca"/></g><text x="190" y="200.7" font-size="10.2" text-anchor="middle" fill="#111" stroke="#111" stroke-width="0.1"><tspan font-style="italic">Gypa</tspan></text><path d="M146.13 269.61L160.18 293.07M203.12 264.06L232.59 282.78M160.18 293.07L232.59 282.78" fill="none" stroke="#383838" stroke-width="0.95"/><path d="M144.30 208.30L146.13 269.61M146.13 269.61L203.12 264.06" fill="none" stroke="#555" stroke-width="1.0"/><path d="M203.02 208.47L203.12 264.06" fill="none" stroke="#555" stroke-width="1.0"/><path d="M235.72 208.97L232.59 282.78" fill="none" stroke="#555" stroke-width="1.0"/><path d="M144.30 208.30L235.72 208.97" fill="none" stroke="#888" stroke-width="1.0"/><path d="M143.93 268.05L142.26 220.90" stroke="#333" stroke-width="0.8" fill="none"/><path d="M142.16 217.90L143.16 220.86L141.36 220.93Z" fill="#333"/><path d="M155.53 291.96L147.76 277.52" stroke="#333" stroke-width="0.8" fill="none"/><path d="M146.34 274.88L148.55 277.09L146.97 277.94Z" fill="#333"/><path d="M225.38 286.80L175.45 294.14" stroke="#333" stroke-width="0.8" fill="none"/><path d="M172.48 294.57L175.32 293.25L175.58 295.03Z" fill="#333"/><text x="0" y="0" transform="translate(138.80,245.30) rotate(90)" font-size="6.2" text-anchor="middle" dy="0.36em" fill="#111" stroke="#111" stroke-width="0.12">DC2</text><text x="0" y="0" transform="translate(146.50,285.50) rotate(60)" font-size="6.2" text-anchor="middle" dy="0.36em" fill="#111" stroke="#111" stroke-width="0.12">DC3</text><text x="0" y="0" transform="translate(203.10,296.90) rotate(-5)" font-size="6.2" text-anchor="middle" dy="0.36em" fill="#111" stroke="#111" stroke-width="0.12">DC1</text><g transform="translate(144.30,208.30) scale(0.5224,0.5548)" stroke-width="1.6" stroke-linecap="round" fill="none"><use href="#a1_2" stroke="#d2171e"/><use href="#a1_1" stroke="#b41218"/><use href="#a1_0" stroke="#b41218"/><use href="#a0_0" stroke="#b41218"/><use href="#a0_2" stroke="#d2171e"/><use href="#a0_1" stroke="#b41218"/><use href="#a3_0" stroke="#be141a"/><use href="#a2_2" stroke="#d8181f"/><use href="#a4_1" stroke="#c8151c"/><use href="#a3_2" stroke="#dc1820"/><use href="#a3_1" stroke="#be141a"/><use href="#a2_0" stroke="#ba1319"/><use href="#a2_1" stroke="#ba1319"/><use href="#a4_2" stroke="#e61a22"/><use href="#a4_0" stroke="#c8151c"/><use href="#a5_0" stroke="#d8181f"/><use href="#a6_2" stroke="#e66168"/><use href="#a7_1" stroke="#e66168"/><use href="#a6_1" stroke="#e7353d"/><use href="#a6_0" stroke="#e7353d"/><use href="#a5_2" stroke="#e73038"/><use href="#a7_2" stroke="#de9398"/><use href="#a7_0" stroke="#e66168"/><use href="#a5_1" stroke="#d8181f"/><use href="#a8_1" stroke="#de9398"/><use href="#a8_2" stroke="#d6b1b3"/><use href="#a8_0" stroke="#de9398"/><use href="#a9_2" stroke="#d0bdbf"/><use href="#a9_1" stroke="#d9aaae"/><use href="#a9_0" stroke="#d9aaae"/><use href="#J0_2" stroke="#cacaca"/><use href="#J1_1" stroke="#cacaca"/><use href="#J0_0" stroke="#dca4a8"/><use href="#J1_0" stroke="#cacaca"/><use href="#J1_2" stroke="#cacaca"/><use href="#J0_1" stroke="#d0bdbf"/><use href="#T1_2" stroke="#cacaca"/><use href="#T1_0" stroke="#cacaca"/><use href="#T0_1" stroke="#cacaca"/><use href="#T1_1" stroke="#cacaca"/><use href="#T0_0" stroke="#cacaca"/><use href="#T0_2" stroke="#cacaca"/><use href="#U0_2" stroke="#cacaca"/><use href="#U0_1" stroke="#cacaca"/><use href="#U0_0" stroke="#cacaca"/><use href="#M0_0" stroke="#cacaca"/><use href="#M1_2" stroke="#cacaca"/><use href="#M0_1" stroke="#cacaca"/><use href="#M1_0" stroke="#cacaca"/><use href="#M0_2" stroke="#cacaca"/><use href="#M1_1" stroke="#cacaca"/><use href="#R1_1" stroke="#cacaca"/><use href="#R0_0" stroke="#cacaca"/><use href="#R1_2" stroke="#cacaca"/><use href="#R0_2" stroke="#cacaca"/><use href="#R1_0" stroke="#cacaca"/><use href="#R0_1" stroke="#cacaca"/><use href="#O0_2" stroke="#cacaca"/><use href="#O0_0" stroke="#cacaca"/><use href="#O0_1" stroke="#cacaca"/><use href="#L1_1" stroke="#cacaca"/><use href="#L0_2" stroke="#cacaca"/><use href="#L0_0" stroke="#cacaca"/><use href="#L1_2" stroke="#cacaca"/><use href="#L1_0" stroke="#cacaca"/><use href="#L0_1" stroke="#cacaca"/><use href="#D0_1" stroke="#cacaca"/><use href="#D1_0" stroke="#cacaca"/><use href="#D1_2" stroke="#cacaca"/><use href="#D0_0" stroke="#cacaca"/><use href="#D1_1" stroke="#cacaca"/><use href="#D0_2" stroke="#cacaca"/></g><text x="316.3" y="200.7" font-size="10.2" text-anchor="middle" fill="#111" stroke="#111" stroke-width="0.1"><tspan font-style="italic">Ighv1-81</tspan></text><path d="M267.23 270.11L281.28 293.57M324.22 264.56L353.69 283.28M281.28 293.57L353.69 283.28" fill="none" stroke="#383838" stroke-width="0.95"/><path d="M265.40 208.80L267.23 270.11M267.23 270.11L324.22 264.56" fill="none" stroke="#555" stroke-width="1.0"/><path d="M324.12 208.97L324.22 264.56" fill="none" stroke="#555" stroke-width="1.0"/><path d="M356.82 209.47L353.69 283.28" fill="none" stroke="#555" stroke-width="1.0"/><path d="M265.40 208.80L356.82 209.47" fill="none" stroke="#888" stroke-width="1.0"/><path d="M265.03 268.55L263.36 221.40" stroke="#333" stroke-width="0.8" fill="none"/><path d="M263.26 218.40L264.26 221.36L262.46 221.43Z" fill="#333"/><path d="M276.63 292.46L268.86 278.02" stroke="#333" stroke-width="0.8" fill="none"/><path d="M267.44 275.38L269.65 277.59L268.07 278.44Z" fill="#333"/><path d="M346.48 287.30L296.55 294.64" stroke="#333" stroke-width="0.8" fill="none"/><path d="M293.58 295.07L296.42 293.75L296.68 295.53Z" fill="#333"/><text x="0" y="0" transform="translate(259.90,245.80) rotate(90)" font-size="6.2" text-anchor="middle" dy="0.36em" fill="#111" stroke="#111" stroke-width="0.12">DC2</text><text x="0" y="0" transform="translate(267.60,286.00) rotate(60)" font-size="6.2" text-anchor="middle" dy="0.36em" fill="#111" stroke="#111" stroke-width="0.12">DC3</text><text x="0" y="0" transform="translate(324.20,297.40) rotate(-5)" font-size="6.2" text-anchor="middle" dy="0.36em" fill="#111" stroke="#111" stroke-width="0.12">DC1</text><g transform="translate(265.40,208.80) scale(0.5224,0.5548)" stroke-width="1.6" stroke-linecap="round" fill="none"><use href="#a1_2" stroke="#cacaca"/><use href="#a1_1" stroke="#cacaca"/><use href="#a1_0" stroke="#cacaca"/><use href="#a0_0" stroke="#cacaca"/><use href="#a0_2" stroke="#cacaca"/><use href="#a0_1" stroke="#cacaca"/><use href="#a3_0" stroke="#cacaca"/><use href="#a2_2" stroke="#cacaca"/><use href="#a4_1" stroke="#cacaca"/><use href="#a3_2" stroke="#cacaca"/><use href="#a3_1" stroke="#cacaca"/><use href="#a2_0" stroke="#cacaca"/><use href="#a2_1" stroke="#cacaca"/><use href="#a4_2" stroke="#cacaca"/><use href="#a4_0" stroke="#cacaca"/><use href="#a5_0" stroke="#cacaca"/><use href="#a6_2" stroke="#cacaca"/><use href="#a7_1" stroke="#cacaca"/><use href="#a6_1" stroke="#cacaca"/><use href="#a6_0" stroke="#cacaca"/><use href="#a5_2" stroke="#cacaca"/><use href="#a7_2" stroke="#cacaca"/><use href="#a7_0" stroke="#cacaca"/><use href="#a5_1" stroke="#cacaca"/><use href="#a8_1" stroke="#cacaca"/><use href="#a8_2" stroke="#cacaca"/><use href="#a8_0" stroke="#cacaca"/><use href="#a9_2" stroke="#cacaca"/><use href="#a9_1" stroke="#cacaca"/><use href="#a9_0" stroke="#cacaca"/><use href="#J0_2" stroke="#cacaca"/><use href="#J1_1" stroke="#cacaca"/><use href="#J0_0" stroke="#cacaca"/><use href="#J1_0" stroke="#cacaca"/><use href="#J1_2" stroke="#cacaca"/><use href="#J0_1" stroke="#cacaca"/><use href="#T1_2" stroke="#cacaca"/><use href="#T1_0" stroke="#cacaca"/><use href="#T0_1" stroke="#cacaca"/><use href="#T1_1" stroke="#cacaca"/><use href="#T0_0" stroke="#cacaca"/><use href="#T0_2" stroke="#cacaca"/><use href="#U0_2" stroke="#cacaca"/><use href="#U0_1" stroke="#cacaca"/><use href="#U0_0" stroke="#cacaca"/><use href="#M0_0" stroke="#cacaca"/><use href="#M1_2" stroke="#cacaca"/><use href="#M0_1" stroke="#cacaca"/><use href="#M1_0" stroke="#e66168"/><use href="#M0_2" stroke="#cacaca"/><use href="#M1_1" stroke="#d6b1b3"/><use href="#R1_1" stroke="#d6b1b3"/><use href="#R0_0" stroke="#e7353d"/><use href="#R1_2" stroke="#cacaca"/><use href="#R0_2" stroke="#cacaca"/><use href="#R1_0" stroke="#e66168"/><use href="#R0_1" stroke="#e37278"/><use href="#O0_2" stroke="#cacaca"/><use href="#O0_0" stroke="#e37278"/><use href="#O0_1" stroke="#cacaca"/><use href="#L1_1" stroke="#cacaca"/><use href="#L0_2" stroke="#cacaca"/><use href="#L0_0" stroke="#de9398"/><use href="#L1_2" stroke="#cacaca"/><use href="#L1_0" stroke="#cacaca"/><use href="#L0_1" stroke="#cacaca"/><use href="#D0_1" stroke="#cacaca"/><use href="#D1_0" stroke="#cacaca"/><use href="#D1_2" stroke="#cacaca"/><use href="#D0_0" stroke="#cacaca"/><use href="#D1_1" stroke="#cacaca"/><use href="#D0_2" stroke="#cacaca"/></g><text x="433.8" y="200.7" font-size="10.2" text-anchor="middle" fill="#111" stroke="#111" stroke-width="0.1"><tspan font-style="italic">Ccl3</tspan></text><path d="M388.33 270.11L402.38 293.57M445.32 264.56L474.79 283.28M402.38 293.57L474.79 283.28" fill="none" stroke="#383838" stroke-width="0.95"/><path d="M386.50 208.80L388.33 270.11M388.33 270.11L445.32 264.56" fill="none" stroke="#555" stroke-width="1.0"/><path d="M445.22 208.97L445.32 264.56" fill="none" stroke="#555" stroke-width="1.0"/><path d="M477.92 209.47L474.79 283.28" fill="none" stroke="#555" stroke-width="1.0"/><path d="M386.50 208.80L477.92 209.47" fill="none" stroke="#888" stroke-width="1.0"/><path d="M386.13 268.55L384.46 221.40" stroke="#333" stroke-width="0.8" fill="none"/><path d="M384.36 218.40L385.36 221.36L383.56 221.43Z" fill="#333"/><path d="M397.73 292.46L389.96 278.02" stroke="#333" stroke-width="0.8" fill="none"/><path d="M388.54 275.38L390.75 277.59L389.17 278.44Z" fill="#333"/><path d="M467.58 287.30L417.65 294.64" stroke="#333" stroke-width="0.8" fill="none"/><path d="M414.68 295.07L417.52 293.75L417.78 295.53Z" fill="#333"/><text x="0" y="0" transform="translate(381.00,245.80) rotate(90)" font-size="6.2" text-anchor="middle" dy="0.36em" fill="#111" stroke="#111" stroke-width="0.12">DC2</text><text x="0" y="0" transform="translate(388.70,286.00) rotate(60)" font-size="6.2" text-anchor="middle" dy="0.36em" fill="#111" stroke="#111" stroke-width="0.12">DC3</text><text x="0" y="0" transform="translate(445.30,297.40) rotate(-5)" font-size="6.2" text-anchor="middle" dy="0.36em" fill="#111" stroke="#111" stroke-width="0.12">DC1</text><g transform="translate(386.50,208.80) scale(0.5224,0.5548)" stroke-width="1.6" stroke-linecap="round" fill="none"><use href="#a1_2" stroke="#cacaca"/><use href="#a1_1" stroke="#cacaca"/><use href="#a1_0" stroke="#cacaca"/><use href="#a0_0" stroke="#cacaca"/><use href="#a0_2" stroke="#cacaca"/><use href="#a0_1" stroke="#cacaca"/><use href="#a3_0" stroke="#cacaca"/><use href="#a2_2" stroke="#cacaca"/><use href="#a4_1" stroke="#cacaca"/><use href="#a3_2" stroke="#cacaca"/><use href="#a3_1" stroke="#cacaca"/><use href="#a2_0" stroke="#cacaca"/><use href="#a2_1" stroke="#cacaca"/><use href="#a4_2" stroke="#cacaca"/><use href="#a4_0" stroke="#cacaca"/><use href="#a5_0" stroke="#cacaca"/><use href="#a6_2" stroke="#cacaca"/><use href="#a7_1" stroke="#cacaca"/><use href="#a6_1" stroke="#cacaca"/><use href="#a6_0" stroke="#cacaca"/><use href="#a5_2" stroke="#cacaca"/><use href="#a7_2" stroke="#cacaca"/><use href="#a7_0" stroke="#cacaca"/><use href="#a5_1" stroke="#cacaca"/><use href="#a8_1" stroke="#cacaca"/><use href="#a8_2" stroke="#cacaca"/><use href="#a8_0" stroke="#cacaca"/><use href="#a9_2" stroke="#cacaca"/><use href="#a9_1" stroke="#cacaca"/><use href="#a9_0" stroke="#cacaca"/><use href="#J0_2" stroke="#cacaca"/><use href="#J1_1" stroke="#d0bdbf"/><use href="#J0_0" stroke="#cacaca"/><use href="#J1_0" stroke="#dca4a8"/><use href="#J1_2" stroke="#cacaca"/><use href="#J0_1" stroke="#cacaca"/><use href="#T1_2" stroke="#cacaca"/><use href="#T1_0" stroke="#d9aaae"/><use href="#T0_1" stroke="#d0bdbf"/><use href="#T1_1" stroke="#d0bdbf"/><use href="#T0_0" stroke="#d9aaae"/><use href="#T0_2" stroke="#cacaca"/><use href="#U0_2" stroke="#cacaca"/><use href="#U0_1" stroke="#d6b1b3"/><use href="#U0_0" stroke="#e18288"/><use href="#M0_0" stroke="#e85058"/><use href="#M1_2" stroke="#e18288"/><use href="#M0_1" stroke="#de9398"/><use href="#M1_0" stroke="#e7323a"/><use href="#M0_2" stroke="#d0bdbf"/><use href="#M1_1" stroke="#e84850"/><use href="#R1_1" stroke="#e37278"/><use href="#R0_0" stroke="#e8424a"/><use href="#R1_2" stroke="#d9aaae"/><use href="#R0_2" stroke="#d9aaae"/><use href="#R1_0" stroke="#e8424a"/><use href="#R0_1" stroke="#e37278"/><use href="#O0_2" stroke="#cacaca"/><use href="#O0_0" stroke="#e37278"/><use href="#O0_1" stroke="#d9aaae"/><use href="#L1_1" stroke="#d6b1b3"/><use href="#L0_2" stroke="#cacaca"/><use href="#L0_0" stroke="#de9398"/><use href="#L1_2" stroke="#cacaca"/><use href="#L1_0" stroke="#de9398"/><use href="#L0_1" stroke="#d6b1b3"/><use href="#D0_1" stroke="#d3b7b9"/><use href="#D1_0" stroke="#dca4a8"/><use href="#D1_2" stroke="#cacaca"/><use href="#D0_0" stroke="#dca4a8"/><use href="#D1_1" stroke="#d3b7b9"/><use href="#D0_2" stroke="#cacaca"/></g><text x="67.2" y="313.8" font-size="10.2" text-anchor="middle" fill="#111" stroke="#111" stroke-width="0.1"><tspan font-style="italic">Cebpa</tspan></text><path d="M24.53 382.11L38.58 405.57M81.52 376.56L110.99 395.28M38.58 405.57L110.99 395.28" fill="none" stroke="#383838" stroke-width="0.95"/><path d="M22.70 320.80L24.53 382.11M24.53 382.11L81.52 376.56" fill="none" stroke="#555" stroke-width="1.0"/><path d="M81.42 320.97L81.52 376.56" fill="none" stroke="#555" stroke-width="1.0"/><path d="M114.12 321.47L110.99 395.28" fill="none" stroke="#555" stroke-width="1.0"/><path d="M22.70 320.80L114.12 321.47" fill="none" stroke="#888" stroke-width="1.0"/><path d="M22.33 380.55L20.66 333.40" stroke="#333" stroke-width="0.8" fill="none"/><path d="M20.56 330.40L21.56 333.36L19.76 333.43Z" fill="#333"/><path d="M33.93 404.46L26.16 390.02" stroke="#333" stroke-width="0.8" fill="none"/><path d="M24.74 387.38L26.95 389.59L25.37 390.44Z" fill="#333"/><path d="M103.78 399.30L53.85 406.64" stroke="#333" stroke-width="0.8" fill="none"/><path d="M50.88 407.07L53.72 405.75L53.98 407.53Z" fill="#333"/><text x="0" y="0" transform="translate(17.20,357.80) rotate(90)" font-size="6.2" text-anchor="middle" dy="0.36em" fill="#111" stroke="#111" stroke-width="0.12">DC2</text><text x="0" y="0" transform="translate(24.90,398.00) rotate(60)" font-size="6.2" text-anchor="middle" dy="0.36em" fill="#111" stroke="#111" stroke-width="0.12">DC3</text><text x="0" y="0" transform="translate(81.50,409.40) rotate(-5)" font-size="6.2" text-anchor="middle" dy="0.36em" fill="#111" stroke="#111" stroke-width="0.12">DC1</text><g transform="translate(22.70,320.80) scale(0.5224,0.5548)" stroke-width="1.6" stroke-linecap="round" fill="none"><use href="#a1_2" stroke="#cacaca"/><use href="#a1_1" stroke="#cacaca"/><use href="#a1_0" stroke="#cacaca"/><use href="#a0_0" stroke="#cacaca"/><use href="#a0_2" stroke="#cacaca"/><use href="#a0_1" stroke="#cacaca"/><use href="#a3_0" stroke="#cacaca"/><use href="#a2_2" stroke="#cacaca"/><use href="#a4_1" stroke="#cacaca"/><use href="#a3_2" stroke="#cacaca"/><use href="#a3_1" stroke="#cacaca"/><use href="#a2_0" stroke="#cacaca"/><use href="#a2_1" stroke="#cacaca"/><use href="#a4_2" stroke="#cacaca"/><use href="#a4_0" stroke="#cdc4c4"/><use href="#a5_0" stroke="#d0bdbf"/><use href="#a6_2" stroke="#cacaca"/><use href="#a7_1" stroke="#d3b7b9"/><use href="#a6_1" stroke="#cdc4c4"/><use href="#a6_0" stroke="#d6b1b3"/><use href="#a5_2" stroke="#cacaca"/><use href="#a7_2" stroke="#cacaca"/><use href="#a7_0" stroke="#dca4a8"/><use href="#a5_1" stroke="#cacaca"/><use href="#a8_1" stroke="#d6b1b3"/><use href="#a8_2" stroke="#cdc4c4"/><use href="#a8_0" stroke="#de9398"/><use href="#a9_2" stroke="#d0bdbf"/><use href="#a9_1" stroke="#d9aaae"/><use href="#a9_0" stroke="#e18288"/><use href="#J0_2" stroke="#d3b7b9"/><use href="#J1_1" stroke="#de9398"/><use href="#J0_0" stroke="#e66168"/><use href="#J1_0" stroke="#e66168"/><use href="#J1_2" stroke="#d3b7b9"/><use href="#J0_1" stroke="#de9398"/><use href="#T1_2" stroke="#cacaca"/><use href="#T1_0" stroke="#d9aaae"/><use href="#T0_1" stroke="#d0bdbf"/><use href="#T1_1" stroke="#d0bdbf"/><use href="#T0_0" stroke="#d9aaae"/><use href="#T0_2" stroke="#cacaca"/><use href="#U0_2" stroke="#cacaca"/><use href="#U0_1" stroke="#d3b7b9"/><use href="#U0_0" stroke="#de9398"/><use href="#M0_0" stroke="#e8424a"/><use href="#M1_2" stroke="#dca4a8"/><use href="#M0_1" stroke="#e18288"/><use href="#M1_0" stroke="#e61a22"/><use href="#M0_2" stroke="#d3b7b9"/><use href="#M1_1" stroke="#e8424a"/><use href="#R1_1" stroke="#e37278"/><use href="#R0_0" stroke="#e7353d"/><use href="#R1_2" stroke="#d3b7b9"/><use href="#R0_2" stroke="#d3b7b9"/><use href="#R1_0" stroke="#e7353d"/><use href="#R0_1" stroke="#e37278"/><use href="#O0_2" stroke="#cacaca"/><use href="#O0_0" stroke="#dca4a8"/><use href="#O0_1" stroke="#d0bdbf"/><use href="#L1_1" stroke="#e85058"/><use href="#L0_2" stroke="#dca4a8"/><use href="#L0_0" stroke="#e61a22"/><use href="#L1_2" stroke="#dca4a8"/><use href="#L1_0" stroke="#e61a22"/><use href="#L0_1" stroke="#e85058"/><use href="#D0_1" stroke="#e01921"/><use href="#D1_0" stroke="#e61a22"/><use href="#D1_2" stroke="#e8424a"/><use href="#D0_0" stroke="#d8181f"/><use href="#D1_1" stroke="#e62830"/><use href="#D0_2" stroke="#e61a22"/></g><text x="178.8" y="313.8" font-size="10.2" text-anchor="middle" fill="#111" stroke="#111" stroke-width="0.1"><tspan font-style="italic">Ctsg</tspan></text><path d="M141.03 382.11L155.08 405.57M198.02 376.56L227.49 395.28M155.08 405.57L227.49 395.28" fill="none" stroke="#383838" stroke-width="0.95"/><path d="M139.20 320.80L141.03 382.11M141.03 382.11L198.02 376.56" fill="none" stroke="#555" stroke-width="1.0"/><path d="M197.92 320.97L198.02 376.56" fill="none" stroke="#555" stroke-width="1.0"/><path d="M230.62 321.47L227.49 395.28" fill="none" stroke="#555" stroke-width="1.0"/><path d="M139.20 320.80L230.62 321.47" fill="none" stroke="#888" stroke-width="1.0"/><path d="M138.83 380.55L137.16 333.40" stroke="#333" stroke-width="0.8" fill="none"/><path d="M137.06 330.40L138.06 333.36L136.26 333.43Z" fill="#333"/><path d="M150.43 404.46L142.66 390.02" stroke="#333" stroke-width="0.8" fill="none"/><path d="M141.24 387.38L143.45 389.59L141.87 390.44Z" fill="#333"/><path d="M220.28 399.30L170.35 406.64" stroke="#333" stroke-width="0.8" fill="none"/><path d="M167.38 407.07L170.22 405.75L170.48 407.53Z" fill="#333"/><text x="0" y="0" transform="translate(133.70,357.80) rotate(90)" font-size="6.2" text-anchor="middle" dy="0.36em" fill="#111" stroke="#111" stroke-width="0.12">DC2</text><text x="0" y="0" transform="translate(141.40,398.00) rotate(60)" font-size="6.2" text-anchor="middle" dy="0.36em" fill="#111" stroke="#111" stroke-width="0.12">DC3</text><text x="0" y="0" transform="translate(198.00,409.40) rotate(-5)" font-size="6.2" text-anchor="middle" dy="0.36em" fill="#111" stroke="#111" stroke-width="0.12">DC1</text><g transform="translate(139.20,320.80) scale(0.5224,0.5548)" stroke-width="1.6" stroke-linecap="round" fill="none"><use href="#a1_2" stroke="#cacaca"/><use href="#a1_1" stroke="#cacaca"/><use href="#a1_0" stroke="#cacaca"/><use href="#a0_0" stroke="#cacaca"/><use href="#a0_2" stroke="#cacaca"/><use href="#a0_1" stroke="#cacaca"/><use href="#a3_0" stroke="#cacaca"/><use href="#a2_2" stroke="#cacaca"/><use href="#a4_1" stroke="#cacaca"/><use href="#a3_2" stroke="#cacaca"/><use href="#a3_1" stroke="#cacaca"/><use href="#a2_0" stroke="#cacaca"/><use href="#a2_1" stroke="#cacaca"/><use href="#a4_2" stroke="#cacaca"/><use href="#a4_0" stroke="#d0bdbf"/><use href="#a5_0" stroke="#d3b7b9"/><use href="#a6_2" stroke="#cacaca"/><use href="#a7_1" stroke="#d3b7b9"/><use href="#a6_1" stroke="#d0bdbf"/><use href="#a6_0" stroke="#d6b1b3"/><use href="#a5_2" stroke="#cacaca"/><use href="#a7_2" stroke="#cdc4c4"/><use href="#a7_0" stroke="#d9aaae"/><use href="#a5_1" stroke="#cdc4c4"/><use href="#a8_1" stroke="#d6b1b3"/><use href="#a8_2" stroke="#d0bdbf"/><use href="#a8_0" stroke="#dca4a8"/><use href="#a9_2" stroke="#d0bdbf"/><use href="#a9_1" stroke="#d6b1b3"/><use href="#a9_0" stroke="#dca4a8"/><use href="#J0_2" stroke="#d0bdbf"/><use href="#J1_1" stroke="#d9aaae"/><use href="#J0_0" stroke="#de9398"/><use href="#J1_0" stroke="#de9398"/><use href="#J1_2" stroke="#d0bdbf"/><use href="#J0_1" stroke="#d9aaae"/><use href="#T1_2" stroke="#cacaca"/><use href="#T1_0" stroke="#d3b7b9"/><use href="#T0_1" stroke="#cacaca"/><use href="#T1_1" stroke="#cacaca"/><use href="#T0_0" stroke="#d3b7b9"/><use href="#T0_2" stroke="#cacaca"/><use href="#U0_2" stroke="#cacaca"/><use href="#U0_1" stroke="#d0bdbf"/><use href="#U0_0" stroke="#d6b1b3"/><use href="#M0_0" stroke="#de9398"/><use href="#M1_2" stroke="#d0bdbf"/><use href="#M0_1" stroke="#d6b1b3"/><use href="#M1_0" stroke="#de9398"/><use href="#M0_2" stroke="#d0bdbf"/><use href="#M1_1" stroke="#d6b1b3"/><use href="#R1_1" stroke="#d3b7b9"/><use href="#R0_0" stroke="#dca4a8"/><use href="#R1_2" stroke="#cacaca"/><use href="#R0_2" stroke="#cacaca"/><use href="#R1_0" stroke="#dca4a8"/><use href="#R0_1" stroke="#d3b7b9"/><use href="#O0_2" stroke="#cacaca"/><use href="#O0_0" stroke="#cacaca"/><use href="#O0_1" stroke="#cacaca"/><use href="#L1_1" stroke="#e7353d"/><use href="#L0_2" stroke="#d9aaae"/><use href="#L0_0" stroke="#e8424a"/><use href="#L1_2" stroke="#e37278"/><use href="#L1_0" stroke="#e61a22"/><use href="#L0_1" stroke="#e37278"/><use href="#D0_1" stroke="#ba1319"/><use href="#D1_0" stroke="#c4151b"/><use href="#D1_2" stroke="#e62830"/><use href="#D0_0" stroke="#b41218"/><use href="#D1_1" stroke="#d2171e"/><use href="#D0_2" stroke="#c4151b"/></g><text x="315" y="313.8" font-size="10.2" text-anchor="middle" fill="#111" stroke="#111" stroke-width="0.1"><tspan font-style="italic">Mpl</tspan></text><path d="M267.23 382.11L281.28 405.57M324.22 376.56L353.69 395.28M281.28 405.57L353.69 395.28" fill="none" stroke="#383838" stroke-width="0.95"/><path d="M265.40 320.80L267.23 382.11M267.23 382.11L324.22 376.56" fill="none" stroke="#555" stroke-width="1.0"/><path d="M324.12 320.97L324.22 376.56" fill="none" stroke="#555" stroke-width="1.0"/><path d="M356.82 321.47L353.69 395.28" fill="none" stroke="#555" stroke-width="1.0"/><path d="M265.40 320.80L356.82 321.47" fill="none" stroke="#888" stroke-width="1.0"/><path d="M265.03 380.55L263.36 333.40" stroke="#333" stroke-width="0.8" fill="none"/><path d="M263.26 330.40L264.26 333.36L262.46 333.43Z" fill="#333"/><path d="M276.63 404.46L268.86 390.02" stroke="#333" stroke-width="0.8" fill="none"/><path d="M267.44 387.38L269.65 389.59L268.07 390.44Z" fill="#333"/><path d="M346.48 399.30L296.55 406.64" stroke="#333" stroke-width="0.8" fill="none"/><path d="M293.58 407.07L296.42 405.75L296.68 407.53Z" fill="#333"/><text x="0" y="0" transform="translate(259.90,357.80) rotate(90)" font-size="6.2" text-anchor="middle" dy="0.36em" fill="#111" stroke="#111" stroke-width="0.12">DC2</text><text x="0" y="0" transform="translate(267.60,398.00) rotate(60)" font-size="6.2" text-anchor="middle" dy="0.36em" fill="#111" stroke="#111" stroke-width="0.12">DC3</text><text x="0" y="0" transform="translate(324.20,409.40) rotate(-5)" font-size="6.2" text-anchor="middle" dy="0.36em" fill="#111" stroke="#111" stroke-width="0.12">DC1</text><g transform="translate(265.40,320.80) scale(0.5224,0.5548)" stroke-width="1.6" stroke-linecap="round" fill="none"><use href="#a1_2" stroke="#cacaca"/><use href="#a1_1" stroke="#cacaca"/><use href="#a1_0" stroke="#cacaca"/><use href="#a0_0" stroke="#cacaca"/><use href="#a0_2" stroke="#cacaca"/><use href="#a0_1" stroke="#cacaca"/><use href="#a3_0" stroke="#cacaca"/><use href="#a2_2" stroke="#cacaca"/><use href="#a4_1" stroke="#cacaca"/><use href="#a3_2" stroke="#cacaca"/><use href="#a3_1" stroke="#cacaca"/><use href="#a2_0" stroke="#cacaca"/><use href="#a2_1" stroke="#cacaca"/><use href="#a4_2" stroke="#cacaca"/><use href="#a4_0" stroke="#cacaca"/><use href="#a5_0" stroke="#cacaca"/><use href="#a6_2" stroke="#cacaca"/><use href="#a7_1" stroke="#d0bdbf"/><use href="#a6_1" stroke="#cacaca"/><use href="#a6_0" stroke="#cacaca"/><use href="#a5_2" stroke="#cacaca"/><use href="#a7_2" stroke="#d0bdbf"/><use href="#a7_0" stroke="#d0bdbf"/><use href="#a5_1" stroke="#cacaca"/><use href="#a8_1" stroke="#d9aaae"/><use href="#a8_2" stroke="#d9aaae"/><use href="#a8_0" stroke="#d9aaae"/><use href="#a9_2" stroke="#de9398"/><use href="#a9_1" stroke="#de9398"/><use href="#a9_0" stroke="#de9398"/><use href="#J0_2" stroke="#d6b1b3"/><use href="#J1_1" stroke="#e37278"/><use href="#J0_0" stroke="#e8424a"/><use href="#J1_0" stroke="#e8424a"/><use href="#J1_2" stroke="#d6b1b3"/><use href="#J0_1" stroke="#e37278"/><use href="#T1_2" stroke="#d8181f"/><use href="#T1_0" stroke="#be141a"/><use href="#T0_1" stroke="#c8151c"/><use href="#T1_1" stroke="#c8151c"/><use href="#T0_0" stroke="#be141a"/><use href="#T0_2" stroke="#d8181f"/><use href="#U0_2" stroke="#e61a22"/><use href="#U0_1" stroke="#d2171e"/><use href="#U0_0" stroke="#c4151b"/><use href="#M0_0" stroke="#d2171e"/><use href="#M1_2" stroke="#e18288"/><use href="#M0_1" stroke="#e61a22"/><use href="#M1_0" stroke="#e61a22"/><use href="#M0_2" stroke="#e85058"/><use href="#M1_1" stroke="#e8424a"/><use href="#R1_1" stroke="#dca4a8"/><use href="#R0_0" stroke="#e66168"/><use href="#R1_2" stroke="#d0bdbf"/><use href="#R0_2" stroke="#d0bdbf"/><use href="#R1_0" stroke="#e66168"/><use href="#R0_1" stroke="#dca4a8"/><use href="#O0_2" stroke="#cacaca"/><use href="#O0_0" stroke="#dca4a8"/><use href="#O0_1" stroke="#d0bdbf"/><use href="#L1_1" stroke="#cacaca"/><use href="#L0_2" stroke="#cacaca"/><use href="#L0_0" stroke="#dca4a8"/><use href="#L1_2" stroke="#cacaca"/><use href="#L1_0" stroke="#cacaca"/><use href="#L0_1" stroke="#d0bdbf"/><use href="#D0_1" stroke="#cacaca"/><use href="#D1_0" stroke="#cacaca"/><use href="#D1_2" stroke="#cacaca"/><use href="#D0_0" stroke="#cacaca"/><use href="#D1_1" stroke="#cacaca"/><use href="#D0_2" stroke="#cacaca"/></g><text x="437.7" y="313.8" font-size="10.2" text-anchor="middle" fill="#111" stroke="#111" stroke-width="0.1"><tspan font-style="italic">Procr</tspan> (EPCR)</text><path d="M388.83 382.11L402.88 405.57M445.82 376.56L475.29 395.28M402.88 405.57L475.29 395.28" fill="none" stroke="#383838" stroke-width="0.95"/><path d="M387.00 320.80L388.83 382.11M388.83 382.11L445.82 376.56" fill="none" stroke="#555" stroke-width="1.0"/><path d="M445.72 320.97L445.82 376.56" fill="none" stroke="#555" stroke-width="1.0"/><path d="M478.42 321.47L475.29 395.28" fill="none" stroke="#555" stroke-width="1.0"/><path d="M387.00 320.80L478.42 321.47" fill="none" stroke="#888" stroke-width="1.0"/><path d="M386.63 380.55L384.96 333.40" stroke="#333" stroke-width="0.8" fill="none"/><path d="M384.86 330.40L385.86 333.36L384.06 333.43Z" fill="#333"/><path d="M398.23 404.46L390.46 390.02" stroke="#333" stroke-width="0.8" fill="none"/><path d="M389.04 387.38L391.25 389.59L389.67 390.44Z" fill="#333"/><path d="M468.08 399.30L418.15 406.64" stroke="#333" stroke-width="0.8" fill="none"/><path d="M415.18 407.07L418.02 405.75L418.28 407.53Z" fill="#333"/><text x="0" y="0" transform="translate(381.50,357.80) rotate(90)" font-size="6.2" text-anchor="middle" dy="0.36em" fill="#111" stroke="#111" stroke-width="0.12">DC2</text><text x="0" y="0" transform="translate(389.20,398.00) rotate(60)" font-size="6.2" text-anchor="middle" dy="0.36em" fill="#111" stroke="#111" stroke-width="0.12">DC3</text><text x="0" y="0" transform="translate(445.80,409.40) rotate(-5)" font-size="6.2" text-anchor="middle" dy="0.36em" fill="#111" stroke="#111" stroke-width="0.12">DC1</text><g transform="translate(387.00,320.80) scale(0.5224,0.5548)" stroke-width="1.6" stroke-linecap="round" fill="none"><use href="#a1_2" stroke="#cacaca"/><use href="#a1_1" stroke="#cacaca"/><use href="#a1_0" stroke="#cacaca"/><use href="#a0_0" stroke="#cacaca"/><use href="#a0_2" stroke="#cacaca"/><use href="#a0_1" stroke="#cacaca"/><use href="#a3_0" stroke="#cacaca"/><use href="#a2_2" stroke="#cacaca"/><use href="#a4_1" stroke="#cacaca"/><use href="#a3_2" stroke="#cacaca"/><use href="#a3_1" stroke="#cacaca"/><use href="#a2_0" stroke="#cacaca"/><use href="#a2_1" stroke="#cacaca"/><use href="#a4_2" stroke="#cacaca"/><use href="#a4_0" stroke="#cacaca"/><use href="#a5_0" stroke="#cacaca"/><use href="#a6_2" stroke="#cacaca"/><use href="#a7_1" stroke="#cacaca"/><use href="#a6_1" stroke="#cacaca"/><use href="#a6_0" stroke="#cacaca"/><use href="#a5_2" stroke="#cacaca"/><use href="#a7_2" stroke="#cacaca"/><use href="#a7_0" stroke="#cacaca"/><use href="#a5_1" stroke="#cacaca"/><use href="#a8_1" stroke="#cacaca"/><use href="#a8_2" stroke="#cacaca"/><use href="#a8_0" stroke="#cacaca"/><use href="#a9_2" stroke="#cacaca"/><use href="#a9_1" stroke="#cacaca"/><use href="#a9_0" stroke="#cacaca"/><use href="#J0_2" stroke="#cacaca"/><use href="#J1_1" stroke="#d0bdbf"/><use href="#J0_0" stroke="#dca4a8"/><use href="#J1_0" stroke="#dca4a8"/><use href="#J1_2" stroke="#cacaca"/><use href="#J0_1" stroke="#d0bdbf"/><use href="#T1_2" stroke="#e73d45"/><use href="#T1_0" stroke="#d8181f"/><use href="#T0_1" stroke="#e61a22"/><use href="#T1_1" stroke="#e61a22"/><use href="#T0_0" stroke="#d8181f"/><use href="#T0_2" stroke="#e73d45"/><use href="#U0_2" stroke="#e37278"/><use href="#U0_1" stroke="#e73d45"/><use href="#U0_0" stroke="#e01921"/><use href="#M0_0" stroke="#e85058"/><use href="#M1_2" stroke="#cdc4c4"/><use href="#M0_1" stroke="#de9398"/><use href="#M1_0" stroke="#e37278"/><use href="#M0_2" stroke="#d0bdbf"/><use href="#M1_1" stroke="#d9aaae"/><use href="#R1_1" stroke="#d0bdbf"/><use href="#R0_0" stroke="#d9aaae"/><use href="#R1_2" stroke="#cacaca"/><use href="#R0_2" stroke="#cacaca"/><use href="#R1_0" stroke="#d9aaae"/><use href="#R0_1" stroke="#d0bdbf"/><use href="#O0_2" stroke="#cacaca"/><use href="#O0_0" stroke="#cacaca"/><use href="#O0_1" stroke="#cacaca"/><use href="#L1_1" stroke="#cacaca"/><use href="#L0_2" stroke="#cacaca"/><use href="#L0_0" stroke="#cacaca"/><use href="#L1_2" stroke="#cacaca"/><use href="#L1_0" stroke="#cacaca"/><use href="#L0_1" stroke="#cacaca"/><use href="#D0_1" stroke="#cacaca"/><use href="#D1_0" stroke="#cacaca"/><use href="#D1_2" stroke="#cacaca"/><use href="#D0_0" stroke="#cacaca"/><use href="#D1_1" stroke="#cacaca"/><use href="#D0_2" stroke="#cacaca"/></g><text x="67.9" y="425.4" font-size="10.2" text-anchor="middle" fill="#111" stroke="#111" stroke-width="0.1"><tspan font-style="italic">Vwf</tspan></text><path d="M24.53 494.11L38.58 517.57M81.52 488.56L110.99 507.28M38.58 517.57L110.99 507.28" fill="none" stroke="#383838" stroke-width="0.95"/><path d="M22.70 432.80L24.53 494.11M24.53 494.11L81.52 488.56" fill="none" stroke="#555" stroke-width="1.0"/><path d="M81.42 432.97L81.52 488.56" fill="none" stroke="#555" stroke-width="1.0"/><path d="M114.12 433.47L110.99 507.28" fill="none" stroke="#555" stroke-width="1.0"/><path d="M22.70 432.80L114.12 433.47" fill="none" stroke="#888" stroke-width="1.0"/><path d="M22.33 492.55L20.66 445.40" stroke="#333" stroke-width="0.8" fill="none"/><path d="M20.56 442.40L21.56 445.36L19.76 445.43Z" fill="#333"/><path d="M33.93 516.46L26.16 502.02" stroke="#333" stroke-width="0.8" fill="none"/><path d="M24.74 499.38L26.95 501.59L25.37 502.44Z" fill="#333"/><path d="M103.78 511.30L53.85 518.64" stroke="#333" stroke-width="0.8" fill="none"/><path d="M50.88 519.07L53.72 517.75L53.98 519.53Z" fill="#333"/><text x="0" y="0" transform="translate(17.20,469.80) rotate(90)" font-size="6.2" text-anchor="middle" dy="0.36em" fill="#111" stroke="#111" stroke-width="0.12">DC2</text><text x="0" y="0" transform="translate(24.90,510.00) rotate(60)" font-size="6.2" text-anchor="middle" dy="0.36em" fill="#111" stroke="#111" stroke-width="0.12">DC3</text><text x="0" y="0" transform="translate(81.50,521.40) rotate(-5)" font-size="6.2" text-anchor="middle" dy="0.36em" fill="#111" stroke="#111" stroke-width="0.12">DC1</text><g transform="translate(22.70,432.80) scale(0.5224,0.5548)" stroke-width="1.6" stroke-linecap="round" fill="none"><use href="#a1_2" stroke="#cbc7c8"/><use href="#a1_1" stroke="#d1bbbc"/><use href="#a1_0" stroke="#d7aeb1"/><use href="#a0_0" stroke="#d9aaae"/><use href="#a0_2" stroke="#cdc4c4"/><use href="#a0_1" stroke="#d3b7b9"/><use href="#a3_0" stroke="#d5b3b6"/><use href="#a2_2" stroke="#cacaca"/><use href="#a4_1" stroke="#cfc0c1"/><use href="#a3_2" stroke="#cacaca"/><use href="#a3_1" stroke="#cfc0c1"/><use href="#a2_0" stroke="#d6b1b3"/><use href="#a2_1" stroke="#d0bdbf"/><use href="#a4_2" stroke="#cacaca"/><use href="#a4_0" stroke="#d5b3b6"/><use href="#a5_0" stroke="#d7aeb1"/><use href="#a6_2" stroke="#d3b7b9"/><use href="#a7_1" stroke="#e18288"/><use href="#a6_1" stroke="#d9aaae"/><use href="#a6_0" stroke="#de9398"/><use href="#a5_2" stroke="#cbc7c8"/><use href="#a7_2" stroke="#dca4a8"/><use href="#a7_0" stroke="#e66168"/><use href="#a5_1" stroke="#d1bbbc"/><use href="#a8_1" stroke="#e18288"/><use href="#a8_2" stroke="#dca4a8"/><use href="#a8_0" stroke="#e66168"/><use href="#a9_2" stroke="#d3b7b9"/><use href="#a9_1" stroke="#d9aaae"/><use href="#a9_0" stroke="#de9398"/><use href="#J0_2" stroke="#cacaca"/><use href="#J1_1" stroke="#d3b7b9"/><use href="#J0_0" stroke="#de9398"/><use href="#J1_0" stroke="#de9398"/><use href="#J1_2" stroke="#cacaca"/><use href="#J0_1" stroke="#d3b7b9"/><use href="#T1_2" stroke="#de9398"/><use href="#T1_0" stroke="#e73d45"/><use href="#T0_1" stroke="#e66168"/><use href="#T1_1" stroke="#e66168"/><use href="#T0_0" stroke="#e73d45"/><use href="#T0_2" stroke="#de9398"/><use href="#U0_2" stroke="#d3b7b9"/><use href="#U0_1" stroke="#de9398"/><use href="#U0_0" stroke="#e66168"/><use href="#M0_0" stroke="#cacaca"/><use href="#M1_2" stroke="#cacaca"/><use href="#M0_1" stroke="#cacaca"/><use href="#M1_0" stroke="#cacaca"/><use href="#M0_2" stroke="#cacaca"/><use href="#M1_1" stroke="#cacaca"/><use href="#R1_1" stroke="#cacaca"/><use href="#R0_0" stroke="#cacaca"/><use href="#R1_2" stroke="#cacaca"/><use href="#R0_2" stroke="#cacaca"/><use href="#R1_0" stroke="#cacaca"/><use href="#R0_1" stroke="#cacaca"/><use href="#O0_2" stroke="#cacaca"/><use href="#O0_0" stroke="#cacaca"/><use href="#O0_1" stroke="#cacaca"/><use href="#L1_1" stroke="#cacaca"/><use href="#L0_2" stroke="#cacaca"/><use href="#L0_0" stroke="#cacaca"/><use href="#L1_2" stroke="#cacaca"/><use href="#L1_0" stroke="#cacaca"/><use href="#L0_1" stroke="#cacaca"/><use href="#D0_1" stroke="#cacaca"/><use href="#D1_0" stroke="#cacaca"/><use href="#D1_2" stroke="#cacaca"/><use href="#D0_0" stroke="#cacaca"/><use href="#D1_1" stroke="#cacaca"/><use href="#D0_2" stroke="#cacaca"/></g><text x="191.2" y="425.4" font-size="10.2" text-anchor="middle" fill="#111" stroke="#111" stroke-width="0.1"><tspan font-style="italic">Hoxb5</tspan></text><path d="M146.13 494.11L160.18 517.57M203.12 488.56L232.59 507.28M160.18 517.57L232.59 507.28" fill="none" stroke="#383838" stroke-width="0.95"/><path d="M144.30 432.80L146.13 494.11M146.13 494.11L203.12 488.56" fill="none" stroke="#555" stroke-width="1.0"/><path d="M203.02 432.97L203.12 488.56" fill="none" stroke="#555" stroke-width="1.0"/><path d="M235.72 433.47L232.59 507.28" fill="none" stroke="#555" stroke-width="1.0"/><path d="M144.30 432.80L235.72 433.47" fill="none" stroke="#888" stroke-width="1.0"/><path d="M143.93 492.55L142.26 445.40" stroke="#333" stroke-width="0.8" fill="none"/><path d="M142.16 442.40L143.16 445.36L141.36 445.43Z" fill="#333"/><path d="M155.53 516.46L147.76 502.02" stroke="#333" stroke-width="0.8" fill="none"/><path d="M146.34 499.38L148.55 501.59L146.97 502.44Z" fill="#333"/><path d="M225.38 511.30L175.45 518.64" stroke="#333" stroke-width="0.8" fill="none"/><path d="M172.48 519.07L175.32 517.75L175.58 519.53Z" fill="#333"/><text x="0" y="0" transform="translate(138.80,469.80) rotate(90)" font-size="6.2" text-anchor="middle" dy="0.36em" fill="#111" stroke="#111" stroke-width="0.12">DC2</text><text x="0" y="0" transform="translate(146.50,510.00) rotate(60)" font-size="6.2" text-anchor="middle" dy="0.36em" fill="#111" stroke="#111" stroke-width="0.12">DC3</text><text x="0" y="0" transform="translate(203.10,521.40) rotate(-5)" font-size="6.2" text-anchor="middle" dy="0.36em" fill="#111" stroke="#111" stroke-width="0.12">DC1</text><g transform="translate(144.30,432.80) scale(0.5224,0.5548)" stroke-width="1.6" stroke-linecap="round" fill="none"><use href="#a1_2" stroke="#cacaca"/><use href="#a1_1" stroke="#cacaca"/><use href="#a1_0" stroke="#cacaca"/><use href="#a0_0" stroke="#cacaca"/><use href="#a0_2" stroke="#cacaca"/><use href="#a0_1" stroke="#cacaca"/><use href="#a3_0" stroke="#cacaca"/><use href="#a2_2" stroke="#cacaca"/><use href="#a4_1" stroke="#cacaca"/><use href="#a3_2" stroke="#cacaca"/><use href="#a3_1" stroke="#cacaca"/><use href="#a2_0" stroke="#cacaca"/><use href="#a2_1" stroke="#cacaca"/><use href="#a4_2" stroke="#cacaca"/><use href="#a4_0" stroke="#cacaca"/><use href="#a5_0" stroke="#cacaca"/><use href="#a6_2" stroke="#cacaca"/><use href="#a7_1" stroke="#cacaca"/><use href="#a6_1" stroke="#cacaca"/><use href="#a6_0" stroke="#cacaca"/><use href="#a5_2" stroke="#cacaca"/><use href="#a7_2" stroke="#cacaca"/><use href="#a7_0" stroke="#cacaca"/><use href="#a5_1" stroke="#cacaca"/><use href="#a8_1" stroke="#cacaca"/><use href="#a8_2" stroke="#cacaca"/><use href="#a8_0" stroke="#cacaca"/><use href="#a9_2" stroke="#cacaca"/><use href="#a9_1" stroke="#cacaca"/><use href="#a9_0" stroke="#cacaca"/><use href="#J0_2" stroke="#cacaca"/><use href="#J1_1" stroke="#cacaca"/><use href="#J0_0" stroke="#cacaca"/><use href="#J1_0" stroke="#cacaca"/><use href="#J1_2" stroke="#cacaca"/><use href="#J0_1" stroke="#cacaca"/><use href="#T1_2" stroke="#d0bdbf"/><use href="#T1_0" stroke="#e37278"/><use href="#T0_1" stroke="#e18288"/><use href="#T1_1" stroke="#d9aaae"/><use href="#T0_0" stroke="#e75a62"/><use href="#T0_2" stroke="#d6b1b3"/><use href="#U0_2" stroke="#cacaca"/><use href="#U0_1" stroke="#d3b7b9"/><use href="#U0_0" stroke="#de9398"/><use href="#M0_0" stroke="#d6b1b3"/><use href="#M1_2" stroke="#cacaca"/><use href="#M0_1" stroke="#cdc4c4"/><use href="#M1_0" stroke="#cacaca"/><use href="#M0_2" stroke="#cacaca"/><use href="#M1_1" stroke="#cacaca"/><use href="#R1_1" stroke="#cacaca"/><use href="#R0_0" stroke="#cacaca"/><use href="#R1_2" stroke="#cacaca"/><use href="#R0_2" stroke="#cacaca"/><use href="#R1_0" stroke="#cacaca"/><use href="#R0_1" stroke="#cacaca"/><use href="#O0_2" stroke="#cacaca"/><use href="#O0_0" stroke="#cacaca"/><use href="#O0_1" stroke="#cacaca"/><use href="#L1_1" stroke="#cacaca"/><use href="#L0_2" stroke="#cacaca"/><use href="#L0_0" stroke="#cacaca"/><use href="#L1_2" stroke="#cacaca"/><use href="#L1_0" stroke="#cacaca"/><use href="#L0_1" stroke="#cacaca"/><use href="#D0_1" stroke="#cacaca"/><use href="#D1_0" stroke="#cacaca"/><use href="#D1_2" stroke="#cacaca"/><use href="#D0_0" stroke="#cacaca"/><use href="#D1_1" stroke="#cacaca"/><use href="#D0_2" stroke="#cacaca"/></g><text x="315" y="425.4" font-size="10.2" text-anchor="middle" fill="#111" stroke="#111" stroke-width="0.1"><tspan font-style="italic">Fgd5</tspan></text><path d="M267.23 494.11L281.28 517.57M324.22 488.56L353.69 507.28M281.28 517.57L353.69 507.28" fill="none" stroke="#383838" stroke-width="0.95"/><path d="M265.40 432.80L267.23 494.11M267.23 494.11L324.22 488.56" fill="none" stroke="#555" stroke-width="1.0"/><path d="M324.12 432.97L324.22 488.56" fill="none" stroke="#555" stroke-width="1.0"/><path d="M356.82 433.47L353.69 507.28" fill="none" stroke="#555" stroke-width="1.0"/><path d="M265.40 432.80L356.82 433.47" fill="none" stroke="#888" stroke-width="1.0"/><path d="M265.03 492.55L263.36 445.40" stroke="#333" stroke-width="0.8" fill="none"/><path d="M263.26 442.40L264.26 445.36L262.46 445.43Z" fill="#333"/><path d="M276.63 516.46L268.86 502.02" stroke="#333" stroke-width="0.8" fill="none"/><path d="M267.44 499.38L269.65 501.59L268.07 502.44Z" fill="#333"/><path d="M346.48 511.30L296.55 518.64" stroke="#333" stroke-width="0.8" fill="none"/><path d="M293.58 519.07L296.42 517.75L296.68 519.53Z" fill="#333"/><text x="0" y="0" transform="translate(259.90,469.80) rotate(90)" font-size="6.2" text-anchor="middle" dy="0.36em" fill="#111" stroke="#111" stroke-width="0.12">DC2</text><text x="0" y="0" transform="translate(267.60,510.00) rotate(60)" font-size="6.2" text-anchor="middle" dy="0.36em" fill="#111" stroke="#111" stroke-width="0.12">DC3</text><text x="0" y="0" transform="translate(324.20,521.40) rotate(-5)" font-size="6.2" text-anchor="middle" dy="0.36em" fill="#111" stroke="#111" stroke-width="0.12">DC1</text><g transform="translate(265.40,432.80) scale(0.5224,0.5548)" stroke-width="1.6" stroke-linecap="round" fill="none"><use href="#a1_2" stroke="#cacaca"/><use href="#a1_1" stroke="#cacaca"/><use href="#a1_0" stroke="#cacaca"/><use href="#a0_0" stroke="#cacaca"/><use href="#a0_2" stroke="#cacaca"/><use href="#a0_1" stroke="#cacaca"/><use href="#a3_0" stroke="#cacaca"/><use href="#a2_2" stroke="#cacaca"/><use href="#a4_1" stroke="#cacaca"/><use href="#a3_2" stroke="#cacaca"/><use href="#a3_1" stroke="#cacaca"/><use href="#a2_0" stroke="#cacaca"/><use href="#a2_1" stroke="#cacaca"/><use href="#a4_2" stroke="#cacaca"/><use href="#a4_0" stroke="#cacaca"/><use href="#a5_0" stroke="#cacaca"/><use href="#a6_2" stroke="#cacaca"/><use href="#a7_1" stroke="#cacaca"/><use href="#a6_1" stroke="#cacaca"/><use href="#a6_0" stroke="#cacaca"/><use href="#a5_2" stroke="#cacaca"/><use href="#a7_2" stroke="#cacaca"/><use href="#a7_0" stroke="#cacaca"/><use href="#a5_1" stroke="#cacaca"/><use href="#a8_1" stroke="#cacaca"/><use href="#a8_2" stroke="#cacaca"/><use href="#a8_0" stroke="#cacaca"/><use href="#a9_2" stroke="#cacaca"/><use href="#a9_1" stroke="#cacaca"/><use href="#a9_0" stroke="#cacaca"/><use href="#J0_2" stroke="#cacaca"/><use href="#J1_1" stroke="#cacaca"/><use href="#J0_0" stroke="#cacaca"/><use href="#J1_0" stroke="#cacaca"/><use href="#J1_2" stroke="#cacaca"/><use href="#J0_1" stroke="#cacaca"/><use href="#T1_2" stroke="#dca4a8"/><use href="#T1_0" stroke="#e7353d"/><use href="#T0_1" stroke="#e66168"/><use href="#T1_1" stroke="#e66168"/><use href="#T0_0" stroke="#e7353d"/><use href="#T0_2" stroke="#dca4a8"/><use href="#U0_2" stroke="#d0bdbf"/><use href="#U0_1" stroke="#dca4a8"/><use href="#U0_0" stroke="#e37278"/><use href="#M0_0" stroke="#d9aaae"/><use href="#M1_2" stroke="#cacaca"/><use href="#M0_1" stroke="#cdc4c4"/><use href="#M1_0" stroke="#cacaca"/><use href="#M0_2" stroke="#cacaca"/><use href="#M1_1" stroke="#cacaca"/><use href="#R1_1" stroke="#cacaca"/><use href="#R0_0" stroke="#cacaca"/><use href="#R1_2" stroke="#cacaca"/><use href="#R0_2" stroke="#cacaca"/><use href="#R1_0" stroke="#cacaca"/><use href="#R0_1" stroke="#cacaca"/><use href="#O0_2" stroke="#cacaca"/><use href="#O0_0" stroke="#cacaca"/><use href="#O0_1" stroke="#cacaca"/><use href="#L1_1" stroke="#cacaca"/><use href="#L0_2" stroke="#cacaca"/><use href="#L0_0" stroke="#cacaca"/><use href="#L1_2" stroke="#cacaca"/><use href="#L1_0" stroke="#cacaca"/><use href="#L0_1" stroke="#cacaca"/><use href="#D0_1" stroke="#cacaca"/><use href="#D1_0" stroke="#cacaca"/><use href="#D1_2" stroke="#cacaca"/><use href="#D0_0" stroke="#cacaca"/><use href="#D1_1" stroke="#cacaca"/><use href="#D0_2" stroke="#cacaca"/></g><text x="440.2" y="425.4" font-size="10.2" text-anchor="middle" fill="#111" stroke="#111" stroke-width="0.1"><tspan font-style="italic">Ctnnal1</tspan></text><path d="M388.33 494.11L402.38 517.57M445.32 488.56L474.79 507.28M402.38 517.57L474.79 507.28" fill="none" stroke="#383838" stroke-width="0.95"/><path d="M386.50 432.80L388.33 494.11M388.33 494.11L445.32 488.56" fill="none" stroke="#555" stroke-width="1.0"/><path d="M445.22 432.97L445.32 488.56" fill="none" stroke="#555" stroke-width="1.0"/><path d="M477.92 433.47L474.79 507.28" fill="none" stroke="#555" stroke-width="1.0"/><path d="M386.50 432.80L477.92 433.47" fill="none" stroke="#888" stroke-width="1.0"/><path d="M386.13 492.55L384.46 445.40" stroke="#333" stroke-width="0.8" fill="none"/><path d="M384.36 442.40L385.36 445.36L383.56 445.43Z" fill="#333"/><path d="M397.73 516.46L389.96 502.02" stroke="#333" stroke-width="0.8" fill="none"/><path d="M388.54 499.38L390.75 501.59L389.17 502.44Z" fill="#333"/><path d="M467.58 511.30L417.65 518.64" stroke="#333" stroke-width="0.8" fill="none"/><path d="M414.68 519.07L417.52 517.75L417.78 519.53Z" fill="#333"/><text x="0" y="0" transform="translate(381.00,469.80) rotate(90)" font-size="6.2" text-anchor="middle" dy="0.36em" fill="#111" stroke="#111" stroke-width="0.12">DC2</text><text x="0" y="0" transform="translate(388.70,510.00) rotate(60)" font-size="6.2" text-anchor="middle" dy="0.36em" fill="#111" stroke="#111" stroke-width="0.12">DC3</text><text x="0" y="0" transform="translate(445.30,521.40) rotate(-5)" font-size="6.2" text-anchor="middle" dy="0.36em" fill="#111" stroke="#111" stroke-width="0.12">DC1</text><g transform="translate(386.50,432.80) scale(0.5224,0.5548)" stroke-width="1.6" stroke-linecap="round" fill="none"><use href="#a1_2" stroke="#d3b7b9"/><use href="#a1_1" stroke="#d3b7b9"/><use href="#a1_0" stroke="#e18288"/><use href="#a0_0" stroke="#e37278"/><use href="#a0_2" stroke="#d6b1b3"/><use href="#a0_1" stroke="#d6b1b3"/><use href="#a3_0" stroke="#d9aaae"/><use href="#a2_2" stroke="#cdc4c4"/><use href="#a4_1" stroke="#cacaca"/><use href="#a3_2" stroke="#cacaca"/><use href="#a3_1" stroke="#cacaca"/><use href="#a2_0" stroke="#dca4a8"/><use href="#a2_1" stroke="#cdc4c4"/><use href="#a4_2" stroke="#cacaca"/><use href="#a4_0" stroke="#d3b7b9"/><use href="#a5_0" stroke="#d0bdbf"/><use href="#a6_2" stroke="#cacaca"/><use href="#a7_1" stroke="#cacaca"/><use href="#a6_1" stroke="#cacaca"/><use href="#a6_0" stroke="#d0bdbf"/><use href="#a5_2" stroke="#cacaca"/><use href="#a7_2" stroke="#cacaca"/><use href="#a7_0" stroke="#d3b7b9"/><use href="#a5_1" stroke="#cacaca"/><use href="#a8_1" stroke="#cacaca"/><use href="#a8_2" stroke="#cacaca"/><use href="#a8_0" stroke="#d6b1b3"/><use href="#a9_2" stroke="#cacaca"/><use href="#a9_1" stroke="#cacaca"/><use href="#a9_0" stroke="#d9aaae"/><use href="#J0_2" stroke="#cacaca"/><use href="#J1_1" stroke="#d6b1b3"/><use href="#J0_0" stroke="#e18288"/><use href="#J1_0" stroke="#e18288"/><use href="#J1_2" stroke="#cacaca"/><use href="#J0_1" stroke="#d6b1b3"/><use href="#T1_2" stroke="#d9aaae"/><use href="#T1_0" stroke="#e84850"/><use href="#T0_1" stroke="#e27c82"/><use href="#T1_1" stroke="#e27c82"/><use href="#T0_0" stroke="#e84850"/><use href="#T0_2" stroke="#d9aaae"/><use href="#U0_2" stroke="#d3b7b9"/><use href="#U0_1" stroke="#de9398"/><use href="#U0_0" stroke="#e66168"/><use href="#M0_0" stroke="#de9398"/><use href="#M1_2" stroke="#cacaca"/><use href="#M0_1" stroke="#d3b7b9"/><use href="#M1_0" stroke="#cacaca"/><use href="#M0_2" stroke="#cacaca"/><use href="#M1_1" stroke="#cacaca"/><use href="#R1_1" stroke="#cacaca"/><use href="#R0_0" stroke="#cacaca"/><use href="#R1_2" stroke="#cacaca"/><use href="#R0_2" stroke="#cacaca"/><use href="#R1_0" stroke="#cacaca"/><use href="#R0_1" stroke="#cacaca"/><use href="#O0_2" stroke="#cacaca"/><use href="#O0_0" stroke="#cacaca"/><use href="#O0_1" stroke="#cacaca"/><use href="#L1_1" stroke="#cacaca"/><use href="#L0_2" stroke="#cacaca"/><use href="#L0_0" stroke="#d6b1b3"/><use href="#L1_2" stroke="#cacaca"/><use href="#L1_0" stroke="#d6b1b3"/><use href="#L0_1" stroke="#cacaca"/><use href="#D0_1" stroke="#d0bdbf"/><use href="#D1_0" stroke="#dca4a8"/><use href="#D1_2" stroke="#cacaca"/><use href="#D0_0" stroke="#dca4a8"/><use href="#D1_1" stroke="#d0bdbf"/><use href="#D0_2" stroke="#cacaca"/></g><text x="7.4" y="551.4" font-size="12.8" font-weight="bold" fill="#111" stroke="#111" stroke-width="0.3">D</text><text x="69.2" y="558.4" font-size="10.2" text-anchor="middle" fill="#111" stroke="#111" stroke-width="0.1">Sca1</text><path d="M30.33 626.61L44.38 650.07M87.32 621.06L116.79 639.78M44.38 650.07L116.79 639.78" fill="none" stroke="#383838" stroke-width="0.95"/><path d="M28.50 565.30L30.33 626.61M30.33 626.61L87.32 621.06" fill="none" stroke="#666" stroke-width="1.0"/><path d="M87.22 565.47L87.32 621.06" fill="none" stroke="#555" stroke-width="1.0"/><path d="M119.92 565.97L116.79 639.78" fill="none" stroke="#666" stroke-width="1.0"/><path d="M28.50 565.30L42.30 565.40M58.90 565.52L86.90 565.73M100.00 565.82L119.50 565.96" fill="none" stroke="#888" stroke-width="1.0"/><path d="M28.13 625.05L26.46 577.90" stroke="#333" stroke-width="0.8" fill="none"/><path d="M26.36 574.90L27.36 577.86L25.56 577.93Z" fill="#333"/><path d="M39.73 648.96L31.96 634.52" stroke="#333" stroke-width="0.8" fill="none"/><path d="M30.54 631.88L32.75 634.09L31.17 634.94Z" fill="#333"/><path d="M109.58 643.80L59.65 651.14" stroke="#333" stroke-width="0.8" fill="none"/><path d="M56.68 651.57L59.52 650.25L59.78 652.03Z" fill="#333"/><text x="0" y="0" transform="translate(23.00,602.30) rotate(90)" font-size="6.2" text-anchor="middle" dy="0.36em" fill="#111" stroke="#111" stroke-width="0.12">DC2</text><text x="0" y="0" transform="translate(30.70,642.50) rotate(60)" font-size="6.2" text-anchor="middle" dy="0.36em" fill="#111" stroke="#111" stroke-width="0.12">DC3</text><text x="0" y="0" transform="translate(87.30,653.90) rotate(-5)" font-size="6.2" text-anchor="middle" dy="0.36em" fill="#111" stroke="#111" stroke-width="0.12">DC1</text><g transform="translate(28.50,565.30) scale(0.5224,0.5548)" stroke-width="1.6" stroke-linecap="round" fill="none"><use href="#a1_2" stroke="#6d6dc1"/><use href="#a1_1" stroke="#6d6dc1"/><use href="#a1_0" stroke="#6d6dc1"/><use href="#a0_0" stroke="#6d6dc1"/><use href="#a0_2" stroke="#6d6dc1"/><use href="#a0_1" stroke="#6d6dc1"/><use href="#a3_0" stroke="#6f70c2"/><use href="#a2_2" stroke="#6f70c2"/><use href="#a4_1" stroke="#7173c3"/><use href="#a3_2" stroke="#6f70c2"/><use href="#a3_1" stroke="#6f70c2"/><use href="#a2_0" stroke="#6f70c2"/><use href="#a2_1" stroke="#6f70c2"/><use href="#a4_2" stroke="#7173c3"/><use href="#a4_0" stroke="#7173c3"/><use href="#a5_0" stroke="#7173c3"/><use href="#a6_2" stroke="#757ac6"/><use href="#a7_1" stroke="#7980c9"/><use href="#a6_1" stroke="#757ac6"/><use href="#a6_0" stroke="#757ac6"/><use href="#a5_2" stroke="#7173c3"/><use href="#a7_2" stroke="#7980c9"/><use href="#a7_0" stroke="#7980c9"/><use href="#a5_1" stroke="#7173c3"/><use href="#a8_1" stroke="#7e89ce"/><use href="#a8_2" stroke="#7e89ce"/><use href="#a8_0" stroke="#7e89ce"/><use href="#a9_2" stroke="#8a9fd4"/><use href="#a9_1" stroke="#8a9fd4"/><use href="#a9_0" stroke="#8a9fd4"/><use href="#J0_2" stroke="#8799d2"/><use href="#J1_1" stroke="#a2c4d9"/><use href="#J0_0" stroke="#8fa8d7"/><use href="#J1_0" stroke="#8fa8d7"/><use href="#J1_2" stroke="#8799d2"/><use href="#J0_1" stroke="#a2c4d9"/><use href="#T1_2" stroke="#f0c12f"/><use href="#T1_0" stroke="#eead2f"/><use href="#T0_1" stroke="#df962f"/><use href="#T1_1" stroke="#df962f"/><use href="#T0_0" stroke="#eead2f"/><use href="#T0_2" stroke="#f0c12f"/><use href="#U0_2" stroke="#f2d52f"/><use href="#U0_1" stroke="#f0c62f"/><use href="#U0_0" stroke="#efbc2f"/><use href="#M0_0" stroke="#f0c62f"/><use href="#M1_2" stroke="#e2da5c"/><use href="#M0_1" stroke="#f2d52f"/><use href="#M1_0" stroke="#f0c62f"/><use href="#M0_2" stroke="#e2da5c"/><use href="#M1_1" stroke="#f2d52f"/><use href="#R1_1" stroke="#f2d52f"/><use href="#R0_0" stroke="#f1cb2f"/><use href="#R1_2" stroke="#e9d849"/><use href="#R0_2" stroke="#e9d849"/><use href="#R1_0" stroke="#f1cb2f"/><use href="#R0_1" stroke="#f2d52f"/><use href="#O0_2" stroke="#d3da84"/><use href="#O0_0" stroke="#edd63c"/><use href="#O0_1" stroke="#e2da5c"/><use href="#L1_1" stroke="#7e89ce"/><use href="#L0_2" stroke="#8799d2"/><use href="#L0_0" stroke="#acd0d6"/><use href="#L1_2" stroke="#757ac6"/><use href="#L1_0" stroke="#8799d2"/><use href="#L0_1" stroke="#98b8dc"/><use href="#D0_1" stroke="#757ac6"/><use href="#D1_0" stroke="#7173c3"/><use href="#D1_2" stroke="#7c86cc"/><use href="#D0_0" stroke="#7173c3"/><use href="#D1_1" stroke="#757ac6"/><use href="#D0_2" stroke="#7c86cc"/></g><text x="194.2" y="558.2" font-size="10.2" text-anchor="middle" fill="#111" stroke="#111" stroke-width="0.1">Flk2</text><path d="M151.43 626.61L165.48 650.07M208.42 621.06L237.89 639.78M165.48 650.07L237.89 639.78" fill="none" stroke="#383838" stroke-width="0.95"/><path d="M149.60 565.30L151.43 626.61M151.43 626.61L208.42 621.06" fill="none" stroke="#666" stroke-width="1.0"/><path d="M208.32 565.47L208.42 621.06" fill="none" stroke="#555" stroke-width="1.0"/><path d="M241.02 565.97L237.89 639.78" fill="none" stroke="#666" stroke-width="1.0"/><path d="M179.60 565.52L208.50 565.73M221.20 565.82L240.60 565.96" fill="none" stroke="#888" stroke-width="1.0"/><path d="M149.23 625.05L147.56 577.90" stroke="#333" stroke-width="0.8" fill="none"/><path d="M147.46 574.90L148.46 577.86L146.66 577.93Z" fill="#333"/><path d="M160.83 648.96L153.06 634.52" stroke="#333" stroke-width="0.8" fill="none"/><path d="M151.64 631.88L153.85 634.09L152.27 634.94Z" fill="#333"/><path d="M230.68 643.80L180.75 651.14" stroke="#333" stroke-width="0.8" fill="none"/><path d="M177.78 651.57L180.62 650.25L180.88 652.03Z" fill="#333"/><text x="0" y="0" transform="translate(144.10,602.30) rotate(90)" font-size="6.2" text-anchor="middle" dy="0.36em" fill="#111" stroke="#111" stroke-width="0.12">DC2</text><text x="0" y="0" transform="translate(151.80,642.50) rotate(60)" font-size="6.2" text-anchor="middle" dy="0.36em" fill="#111" stroke="#111" stroke-width="0.12">DC3</text><text x="0" y="0" transform="translate(208.40,653.90) rotate(-5)" font-size="6.2" text-anchor="middle" dy="0.36em" fill="#111" stroke="#111" stroke-width="0.12">DC1</text><g transform="translate(149.60,565.30) scale(0.5224,0.5548)" stroke-width="1.6" stroke-linecap="round" fill="none"><use href="#a1_2" stroke="#aec8e4"/><use href="#a1_1" stroke="#aec8e4"/><use href="#a1_0" stroke="#aec8e4"/><use href="#a0_0" stroke="#aec8e4"/><use href="#a0_2" stroke="#aec8e4"/><use href="#a0_1" stroke="#aec8e4"/><use href="#a3_0" stroke="#aec8e4"/><use href="#a2_2" stroke="#aec8e4"/><use href="#a4_1" stroke="#aec8e4"/><use href="#a3_2" stroke="#aec8e4"/><use href="#a3_1" stroke="#aec8e4"/><use href="#a2_0" stroke="#aec8e4"/><use href="#a2_1" stroke="#aec8e4"/><use href="#a4_2" stroke="#aec8e4"/><use href="#a4_0" stroke="#aec8e4"/><use href="#a5_0" stroke="#b2cbe3"/><use href="#a6_2" stroke="#b5cfe2"/><use href="#a7_1" stroke="#b8d3e1"/><use href="#a6_1" stroke="#b5cfe2"/><use href="#a6_0" stroke="#b5cfe2"/><use href="#a5_2" stroke="#b2cbe3"/><use href="#a7_2" stroke="#b8d3e1"/><use href="#a7_0" stroke="#b8d3e1"/><use href="#a5_1" stroke="#b2cbe3"/><use href="#a8_1" stroke="#bfdadf"/><use href="#a8_2" stroke="#bfdadf"/><use href="#a8_0" stroke="#bfdadf"/><use href="#a9_2" stroke="#cce0c7"/><use href="#a9_1" stroke="#cce0c7"/><use href="#a9_0" stroke="#cce0c7"/><use href="#J0_2" stroke="#bfdadf"/><use href="#J1_1" stroke="#aec8e4"/><use href="#J0_0" stroke="#cce0c7"/><use href="#J1_0" stroke="#cce0c7"/><use href="#J1_2" stroke="#bfdadf"/><use href="#J0_1" stroke="#aec8e4"/><use href="#T1_2" stroke="#dde39f"/><use href="#T1_0" stroke="#d79b5d"/><use href="#T0_1" stroke="#b7d1e1"/><use href="#T1_1" stroke="#b7d1e1"/><use href="#T0_0" stroke="#d79b5d"/><use href="#T0_2" stroke="#dde39f"/><use href="#U0_2" stroke="#b7d1e1"/><use href="#U0_1" stroke="#e6ad5d"/><use href="#U0_0" stroke="#cce0c7"/><use href="#M0_0" stroke="#f3cf5d"/><use href="#M1_2" stroke="#dde39f"/><use href="#M0_1" stroke="#f2c55d"/><use href="#M1_0" stroke="#f4d85d"/><use href="#M0_2" stroke="#f1df67"/><use href="#M1_1" stroke="#f3cf5d"/><use href="#R1_1" stroke="#e9e281"/><use href="#R0_0" stroke="#eee071"/><use href="#R1_2" stroke="#dde39f"/><use href="#R0_2" stroke="#dde39f"/><use href="#R1_0" stroke="#eee071"/><use href="#R0_1" stroke="#e9e281"/><use href="#O0_2" stroke="#cce0c7"/><use href="#O0_0" stroke="#e9e281"/><use href="#O0_1" stroke="#dde39f"/><use href="#L1_1" stroke="#dde39f"/><use href="#L0_2" stroke="#cce0c7"/><use href="#L0_0" stroke="#e9e281"/><use href="#L1_2" stroke="#cce0c7"/><use href="#L1_0" stroke="#e9e281"/><use href="#L0_1" stroke="#dde39f"/><use href="#D0_1" stroke="#dde39f"/><use href="#D1_0" stroke="#e9e281"/><use href="#D1_2" stroke="#cce0c7"/><use href="#D0_0" stroke="#e9e281"/><use href="#D1_1" stroke="#dde39f"/><use href="#D0_2" stroke="#cce0c7"/></g><text x="316.2" y="558.2" font-size="10.2" text-anchor="middle" fill="#111" stroke="#111" stroke-width="0.1">CD34</text><path d="M272.53 626.61L286.58 650.07M329.52 621.06L358.99 639.78M286.58 650.07L358.99 639.78" fill="none" stroke="#383838" stroke-width="0.95"/><path d="M270.70 565.30L272.53 626.61M272.53 626.61L329.52 621.06" fill="none" stroke="#666" stroke-width="1.0"/><path d="M329.42 565.47L329.52 621.06" fill="none" stroke="#555" stroke-width="1.0"/><path d="M362.12 565.97L358.99 639.78" fill="none" stroke="#666" stroke-width="1.0"/><path d="M302.30 565.53L329.30 565.73M342.70 565.82L361.70 565.96" fill="none" stroke="#888" stroke-width="1.0"/><path d="M270.33 625.05L268.66 577.90" stroke="#333" stroke-width="0.8" fill="none"/><path d="M268.56 574.90L269.56 577.86L267.76 577.93Z" fill="#333"/><path d="M281.93 648.96L274.16 634.52" stroke="#333" stroke-width="0.8" fill="none"/><path d="M272.74 631.88L274.95 634.09L273.37 634.94Z" fill="#333"/><path d="M351.78 643.80L301.85 651.14" stroke="#333" stroke-width="0.8" fill="none"/><path d="M298.88 651.57L301.72 650.25L301.98 652.03Z" fill="#333"/><text x="0" y="0" transform="translate(265.20,602.30) rotate(90)" font-size="6.2" text-anchor="middle" dy="0.36em" fill="#111" stroke="#111" stroke-width="0.12">DC2</text><text x="0" y="0" transform="translate(272.90,642.50) rotate(60)" font-size="6.2" text-anchor="middle" dy="0.36em" fill="#111" stroke="#111" stroke-width="0.12">DC3</text><text x="0" y="0" transform="translate(329.50,653.90) rotate(-5)" font-size="6.2" text-anchor="middle" dy="0.36em" fill="#111" stroke="#111" stroke-width="0.12">DC1</text><g transform="translate(270.70,565.30) scale(0.5224,0.5548)" stroke-width="1.6" stroke-linecap="round" fill="none"><use href="#a1_2" stroke="#6d6dc1"/><use href="#a1_1" stroke="#6d6dc1"/><use href="#a1_0" stroke="#6d6dc1"/><use href="#a0_0" stroke="#6d6dc1"/><use href="#a0_2" stroke="#6d6dc1"/><use href="#a0_1" stroke="#6d6dc1"/><use href="#a3_0" stroke="#7173c3"/><use href="#a2_2" stroke="#6f70c2"/><use href="#a4_1" stroke="#7173c3"/><use href="#a3_2" stroke="#7173c3"/><use href="#a3_1" stroke="#7173c3"/><use href="#a2_0" stroke="#6f70c2"/><use href="#a2_1" stroke="#6f70c2"/><use href="#a4_2" stroke="#7173c3"/><use href="#a4_0" stroke="#7173c3"/><use href="#a5_0" stroke="#7376c5"/><use href="#a6_2" stroke="#757ac6"/><use href="#a7_1" stroke="#7980c9"/><use href="#a6_1" stroke="#757ac6"/><use href="#a6_0" stroke="#757ac6"/><use href="#a5_2" stroke="#7376c5"/><use href="#a7_2" stroke="#7980c9"/><use href="#a7_0" stroke="#7980c9"/><use href="#a5_1" stroke="#7376c5"/><use href="#a8_1" stroke="#7e89ce"/><use href="#a8_2" stroke="#7e89ce"/><use href="#a8_0" stroke="#7e89ce"/><use href="#a9_2" stroke="#8a9fd4"/><use href="#a9_1" stroke="#8a9fd4"/><use href="#a9_0" stroke="#8a9fd4"/><use href="#J0_2" stroke="#a2c4d9"/><use href="#J1_1" stroke="#e2da5c"/><use href="#J0_0" stroke="#bed7b6"/><use href="#J1_0" stroke="#bed7b6"/><use href="#J1_2" stroke="#a2c4d9"/><use href="#J0_1" stroke="#e2da5c"/><use href="#T1_2" stroke="#8799d2"/><use href="#T1_0" stroke="#8a9fd4"/><use href="#T0_1" stroke="#91abd8"/><use href="#T1_1" stroke="#91abd8"/><use href="#T0_0" stroke="#8a9fd4"/><use href="#T0_2" stroke="#8799d2"/><use href="#U0_2" stroke="#8fa8d7"/><use href="#U0_1" stroke="#acd0d6"/><use href="#U0_0" stroke="#98b8dc"/><use href="#M0_0" stroke="#f2d52f"/><use href="#M1_2" stroke="#e9d849"/><use href="#M0_1" stroke="#f1cb2f"/><use href="#M1_0" stroke="#f2d52f"/><use href="#M0_2" stroke="#e9d849"/><use href="#M1_1" stroke="#f1cb2f"/><use href="#R1_1" stroke="#edd63c"/><use href="#R0_0" stroke="#f1d02f"/><use href="#R1_2" stroke="#e2da5c"/><use href="#R0_2" stroke="#e2da5c"/><use href="#R1_0" stroke="#f1d02f"/><use href="#R0_1" stroke="#edd63c"/><use href="#O0_2" stroke="#bed7b6"/><use href="#O0_0" stroke="#e2da5c"/><use href="#O0_1" stroke="#d3da84"/><use href="#L1_1" stroke="#f1cd2f"/><use href="#L0_2" stroke="#edd63c"/><use href="#L0_0" stroke="#f0c62f"/><use href="#L1_2" stroke="#edd63c"/><use href="#L1_0" stroke="#f0c62f"/><use href="#L0_1" stroke="#f1cd2f"/><use href="#D0_1" stroke="#efbc2f"/><use href="#D1_0" stroke="#d5862f"/><use href="#D1_2" stroke="#f2d52f"/><use href="#D0_0" stroke="#d5862f"/><use href="#D1_1" stroke="#efbc2f"/><use href="#D0_2" stroke="#f2d52f"/></g><text x="439.4" y="560.3" font-size="10.2" text-anchor="middle" fill="#111" stroke="#111" stroke-width="0.1">CD16/32 (FcγR)</text><path d="M394.13 626.61L408.18 650.07M451.12 621.06L480.59 639.78M408.18 650.07L480.59 639.78" fill="none" stroke="#383838" stroke-width="0.95"/><path d="M392.30 565.30L394.13 626.61M394.13 626.61L451.12 621.06" fill="none" stroke="#666" stroke-width="1.0"/><path d="M451.02 565.47L451.12 621.06" fill="none" stroke="#555" stroke-width="1.0"/><path d="M483.72 565.97L480.59 639.78" fill="none" stroke="#666" stroke-width="1.0"/><path d="M422.30 565.52L450.70 565.73M464.50 565.83L483.30 565.96" fill="none" stroke="#888" stroke-width="1.0"/><path d="M391.93 625.05L390.26 577.90" stroke="#333" stroke-width="0.8" fill="none"/><path d="M390.16 574.90L391.16 577.86L389.36 577.93Z" fill="#333"/><path d="M403.53 648.96L395.76 634.52" stroke="#333" stroke-width="0.8" fill="none"/><path d="M394.34 631.88L396.55 634.09L394.97 634.94Z" fill="#333"/><path d="M473.38 643.80L423.45 651.14" stroke="#333" stroke-width="0.8" fill="none"/><path d="M420.48 651.57L423.32 650.25L423.58 652.03Z" fill="#333"/><text x="0" y="0" transform="translate(386.80,602.30) rotate(90)" font-size="6.2" text-anchor="middle" dy="0.36em" fill="#111" stroke="#111" stroke-width="0.12">DC2</text><text x="0" y="0" transform="translate(394.50,642.50) rotate(60)" font-size="6.2" text-anchor="middle" dy="0.36em" fill="#111" stroke="#111" stroke-width="0.12">DC3</text><text x="0" y="0" transform="translate(451.10,653.90) rotate(-5)" font-size="6.2" text-anchor="middle" dy="0.36em" fill="#111" stroke="#111" stroke-width="0.12">DC1</text><g transform="translate(392.30,565.30) scale(0.5224,0.5548)" stroke-width="1.6" stroke-linecap="round" fill="none"><use href="#a1_2" stroke="#cde1d2"/><use href="#a1_1" stroke="#cde1d2"/><use href="#a1_0" stroke="#cde1d2"/><use href="#a0_0" stroke="#c6e0e0"/><use href="#a0_2" stroke="#c6e0e0"/><use href="#a0_1" stroke="#c6e0e0"/><use href="#a3_0" stroke="#d9e4b5"/><use href="#a2_2" stroke="#d3e3c3"/><use href="#a4_1" stroke="#dfe5a6"/><use href="#a3_2" stroke="#d9e4b5"/><use href="#a3_1" stroke="#d9e4b5"/><use href="#a2_0" stroke="#d3e3c3"/><use href="#a2_1" stroke="#d3e3c3"/><use href="#a4_2" stroke="#dfe5a6"/><use href="#a4_0" stroke="#dfe5a6"/><use href="#a5_0" stroke="#dfe5a6"/><use href="#a6_2" stroke="#e6e698"/><use href="#a7_1" stroke="#e9e58e"/><use href="#a6_1" stroke="#e6e698"/><use href="#a6_0" stroke="#e6e698"/><use href="#a5_2" stroke="#dfe5a6"/><use href="#a7_2" stroke="#e9e58e"/><use href="#a7_0" stroke="#e9e58e"/><use href="#a5_1" stroke="#dfe5a6"/><use href="#a8_1" stroke="#eae48a"/><use href="#a8_2" stroke="#eae48a"/><use href="#a8_0" stroke="#eae48a"/><use href="#a9_2" stroke="#eae48a"/><use href="#a9_1" stroke="#eae48a"/><use href="#a9_0" stroke="#eae48a"/><use href="#J0_2" stroke="#dfe5a6"/><use href="#J1_1" stroke="#f2e172"/><use href="#J0_0" stroke="#eae48a"/><use href="#J1_0" stroke="#eae48a"/><use href="#J1_2" stroke="#dfe5a6"/><use href="#J0_1" stroke="#f2e172"/><use href="#T1_2" stroke="#eae48a"/><use href="#T1_0" stroke="#e6e698"/><use href="#T0_1" stroke="#dfe5a6"/><use href="#T1_1" stroke="#dfe5a6"/><use href="#T0_0" stroke="#e6e698"/><use href="#T0_2" stroke="#eae48a"/><use href="#U0_2" stroke="#d0e2cb"/><use href="#U0_1" stroke="#dfe5a6"/><use href="#U0_0" stroke="#e6e698"/><use href="#M0_0" stroke="#f2e172"/><use href="#M1_2" stroke="#d0e2cb"/><use href="#M0_1" stroke="#f5e069"/><use href="#M1_0" stroke="#bcd4e3"/><use href="#M0_2" stroke="#eae48a"/><use href="#M1_1" stroke="#b4cce6"/><use href="#R1_1" stroke="#b4cce6"/><use href="#R0_0" stroke="#aec0e2"/><use href="#R1_2" stroke="#a8b5df"/><use href="#R0_2" stroke="#a8b5df"/><use href="#R1_0" stroke="#aec0e2"/><use href="#R0_1" stroke="#b4cce6"/><use href="#O0_2" stroke="#bcd4e3"/><use href="#O0_0" stroke="#b4cce6"/><use href="#O0_1" stroke="#aec0e2"/><use href="#L1_1" stroke="#dfe5a6"/><use href="#L0_2" stroke="#f2e172"/><use href="#L0_0" stroke="#eae48a"/><use href="#L1_2" stroke="#f2e172"/><use href="#L1_0" stroke="#eae48a"/><use href="#L0_1" stroke="#dfe5a6"/><use href="#D0_1" stroke="#f4d269"/><use href="#D1_0" stroke="#f3c969"/><use href="#D1_2" stroke="#f0bf69"/><use href="#D0_0" stroke="#f3c969"/><use href="#D1_1" stroke="#f4d269"/><use href="#D0_2" stroke="#f0bf69"/></g><text x="68.2" y="671.3" font-size="10.2" text-anchor="middle" fill="#111" stroke="#111" stroke-width="0.1">CD48</text><path d="M30.33 738.81L44.38 762.27M87.32 733.26L116.79 751.98M44.38 762.27L116.79 751.98" fill="none" stroke="#383838" stroke-width="0.95"/><path d="M28.50 677.50L30.33 738.81M30.33 738.81L87.32 733.26" fill="none" stroke="#666" stroke-width="1.0"/><path d="M87.22 677.67L87.32 733.26" fill="none" stroke="#555" stroke-width="1.0"/><path d="M119.92 678.17L116.79 751.98" fill="none" stroke="#666" stroke-width="1.0"/><path d="M28.50 677.50L119.92 678.17" fill="none" stroke="#888" stroke-width="1.0"/><path d="M28.13 737.25L26.46 690.10" stroke="#333" stroke-width="0.8" fill="none"/><path d="M26.36 687.10L27.36 690.06L25.56 690.13Z" fill="#333"/><path d="M39.73 761.16L31.96 746.72" stroke="#333" stroke-width="0.8" fill="none"/><path d="M30.54 744.08L32.75 746.29L31.17 747.14Z" fill="#333"/><path d="M109.58 756.00L59.65 763.34" stroke="#333" stroke-width="0.8" fill="none"/><path d="M56.68 763.77L59.52 762.45L59.78 764.23Z" fill="#333"/><text x="0" y="0" transform="translate(23.00,714.50) rotate(90)" font-size="6.2" text-anchor="middle" dy="0.36em" fill="#111" stroke="#111" stroke-width="0.12">DC2</text><text x="0" y="0" transform="translate(30.70,754.70) rotate(60)" font-size="6.2" text-anchor="middle" dy="0.36em" fill="#111" stroke="#111" stroke-width="0.12">DC3</text><text x="0" y="0" transform="translate(87.30,766.10) rotate(-5)" font-size="6.2" text-anchor="middle" dy="0.36em" fill="#111" stroke="#111" stroke-width="0.12">DC1</text><g transform="translate(28.50,677.50) scale(0.5224,0.5548)" stroke-width="1.6" stroke-linecap="round" fill="none"><use href="#a1_2" stroke="#a6c6dc"/><use href="#a1_1" stroke="#a6c6dc"/><use href="#a1_0" stroke="#a6c6dc"/><use href="#a0_0" stroke="#a2c1dd"/><use href="#a0_2" stroke="#a2c1dd"/><use href="#a0_1" stroke="#a2c1dd"/><use href="#a3_0" stroke="#c6dab2"/><use href="#a2_2" stroke="#aecfda"/><use href="#a4_1" stroke="#e4dc67"/><use href="#a3_2" stroke="#c6dab2"/><use href="#a3_1" stroke="#c6dab2"/><use href="#a2_0" stroke="#aecfda"/><use href="#a2_1" stroke="#aecfda"/><use href="#a4_2" stroke="#e4dc67"/><use href="#a4_0" stroke="#e4dc67"/><use href="#a5_0" stroke="#eed949"/><use href="#a6_2" stroke="#f2d83d"/><use href="#a7_1" stroke="#f2d83d"/><use href="#a6_1" stroke="#f2d83d"/><use href="#a6_0" stroke="#f2d83d"/><use href="#a5_2" stroke="#eed949"/><use href="#a7_2" stroke="#f2d83d"/><use href="#a7_0" stroke="#f2d83d"/><use href="#a5_1" stroke="#eed949"/><use href="#a8_1" stroke="#f2d83d"/><use href="#a8_2" stroke="#f2d83d"/><use href="#a8_0" stroke="#f2d83d"/><use href="#a9_2" stroke="#f2d83d"/><use href="#a9_1" stroke="#f2d83d"/><use href="#a9_0" stroke="#f2d83d"/><use href="#J0_2" stroke="#eed949"/><use href="#J1_1" stroke="#f2d13d"/><use href="#J0_0" stroke="#f2d83d"/><use href="#J1_0" stroke="#f2d83d"/><use href="#J1_2" stroke="#eed949"/><use href="#J0_1" stroke="#f2d13d"/><use href="#T1_2" stroke="#8791d1"/><use href="#T1_0" stroke="#7a7dc7"/><use href="#T0_1" stroke="#8288cd"/><use href="#T1_1" stroke="#8288cd"/><use href="#T0_0" stroke="#7a7dc7"/><use href="#T0_2" stroke="#8791d1"/><use href="#U0_2" stroke="#9ebdde"/><use href="#U0_1" stroke="#8fa0d5"/><use href="#U0_0" stroke="#8791d1"/><use href="#M0_0" stroke="#e4dc67"/><use href="#M1_2" stroke="#e4dc67"/><use href="#M0_1" stroke="#f2d83d"/><use href="#M1_0" stroke="#eed949"/><use href="#M0_2" stroke="#d6dd8c"/><use href="#M1_1" stroke="#f2d83d"/><use href="#R1_1" stroke="#eada55"/><use href="#R0_0" stroke="#eed949"/><use href="#R1_2" stroke="#e4dc67"/><use href="#R0_2" stroke="#e4dc67"/><use href="#R1_0" stroke="#eed949"/><use href="#R0_1" stroke="#eada55"/><use href="#O0_2" stroke="#c2dabb"/><use href="#O0_0" stroke="#e4dc67"/><use href="#O0_1" stroke="#d6dd8c"/><use href="#L1_1" stroke="#f2d83d"/><use href="#L0_2" stroke="#eed949"/><use href="#L0_0" stroke="#f2d13d"/><use href="#L1_2" stroke="#eed949"/><use href="#L1_0" stroke="#f2d13d"/><use href="#L0_1" stroke="#f2d83d"/><use href="#D0_1" stroke="#f1c53d"/><use href="#D1_0" stroke="#e7a63d"/><use href="#D1_2" stroke="#eed949"/><use href="#D0_0" stroke="#e7a63d"/><use href="#D1_1" stroke="#f1c53d"/><use href="#D0_2" stroke="#eed949"/></g><text x="197.4" y="672.7" font-size="10.2" text-anchor="middle" fill="#111" stroke="#111" stroke-width="0.1">CD150</text><path d="M151.43 739.11L165.48 762.57M208.42 733.56L237.89 752.28M165.48 762.57L237.89 752.28" fill="none" stroke="#383838" stroke-width="0.95"/><path d="M149.60 677.80L151.43 739.11M151.43 739.11L208.42 733.56" fill="none" stroke="#666" stroke-width="1.0"/><path d="M208.32 677.97L208.42 733.56" fill="none" stroke="#555" stroke-width="1.0"/><path d="M241.02 678.47L237.89 752.28" fill="none" stroke="#666" stroke-width="1.0"/><path d="M149.60 677.80L241.02 678.47" fill="none" stroke="#888" stroke-width="1.0"/><path d="M149.23 737.55L147.56 690.40" stroke="#333" stroke-width="0.8" fill="none"/><path d="M147.46 687.40L148.46 690.36L146.66 690.43Z" fill="#333"/><path d="M160.83 761.46L153.06 747.02" stroke="#333" stroke-width="0.8" fill="none"/><path d="M151.64 744.38L153.85 746.59L152.27 747.44Z" fill="#333"/><path d="M230.68 756.30L180.75 763.64" stroke="#333" stroke-width="0.8" fill="none"/><path d="M177.78 764.07L180.62 762.75L180.88 764.53Z" fill="#333"/><text x="0" y="0" transform="translate(144.10,714.80) rotate(90)" font-size="6.2" text-anchor="middle" dy="0.36em" fill="#111" stroke="#111" stroke-width="0.12">DC2</text><text x="0" y="0" transform="translate(151.80,755.00) rotate(60)" font-size="6.2" text-anchor="middle" dy="0.36em" fill="#111" stroke="#111" stroke-width="0.12">DC3</text><text x="0" y="0" transform="translate(208.40,766.40) rotate(-5)" font-size="6.2" text-anchor="middle" dy="0.36em" fill="#111" stroke="#111" stroke-width="0.12">DC1</text><g transform="translate(149.60,677.80) scale(0.5224,0.5548)" stroke-width="1.6" stroke-linecap="round" fill="none"><use href="#a1_2" stroke="#a2c1dd"/><use href="#a1_1" stroke="#a2c1dd"/><use href="#a1_0" stroke="#a2c1dd"/><use href="#a0_0" stroke="#9ebdde"/><use href="#a0_2" stroke="#9ebdde"/><use href="#a0_1" stroke="#9ebdde"/><use href="#a3_0" stroke="#aacadb"/><use href="#a2_2" stroke="#a6c6dc"/><use href="#a4_1" stroke="#b6d8d8"/><use href="#a3_2" stroke="#aacadb"/><use href="#a3_1" stroke="#aacadb"/><use href="#a2_0" stroke="#a6c6dc"/><use href="#a2_1" stroke="#a6c6dc"/><use href="#a4_2" stroke="#b6d8d8"/><use href="#a4_0" stroke="#b6d8d8"/><use href="#a5_0" stroke="#d6dd8c"/><use href="#a6_2" stroke="#eada55"/><use href="#a7_1" stroke="#f2d83d"/><use href="#a6_1" stroke="#eada55"/><use href="#a6_0" stroke="#eada55"/><use href="#a5_2" stroke="#d6dd8c"/><use href="#a7_2" stroke="#f2d83d"/><use href="#a7_0" stroke="#f2d83d"/><use href="#a5_1" stroke="#d6dd8c"/><use href="#a8_1" stroke="#f2ce3d"/><use href="#a8_2" stroke="#f2ce3d"/><use href="#a8_0" stroke="#f2ce3d"/><use href="#a9_2" stroke="#f1ca3d"/><use href="#a9_1" stroke="#f1ca3d"/><use href="#a9_0" stroke="#f1ca3d"/><use href="#J0_2" stroke="#efb33d"/><use href="#J1_1" stroke="#f2d83d"/><use href="#J0_0" stroke="#f0c03d"/><use href="#J1_0" stroke="#f0c03d"/><use href="#J1_2" stroke="#efb33d"/><use href="#J0_1" stroke="#f2d83d"/><use href="#T1_2" stroke="#f2d13d"/><use href="#T1_0" stroke="#ebac3d"/><use href="#T0_1" stroke="#f0c03d"/><use href="#T1_1" stroke="#f0c03d"/><use href="#T0_0" stroke="#ebac3d"/><use href="#T0_2" stroke="#f2d13d"/><use href="#U0_2" stroke="#a8c8db"/><use href="#U0_1" stroke="#c2dabb"/><use href="#U0_0" stroke="#e4dc67"/><use href="#M0_0" stroke="#8c9ad3"/><use href="#M1_2" stroke="#95abd9"/><use href="#M0_1" stroke="#858ecf"/><use href="#M1_0" stroke="#8c9ad3"/><use href="#M0_2" stroke="#95abd9"/><use href="#M1_1" stroke="#858ecf"/><use href="#R1_1" stroke="#8288cd"/><use href="#R0_0" stroke="#858ecf"/><use href="#R1_2" stroke="#8fa0d5"/><use href="#R0_2" stroke="#8fa0d5"/><use href="#R1_0" stroke="#858ecf"/><use href="#R0_1" stroke="#8288cd"/><use href="#O0_2" stroke="#97aeda"/><use href="#O0_0" stroke="#8fa0d5"/><use href="#O0_1" stroke="#8791d1"/><use href="#L1_1" stroke="#8288cd"/><use href="#L0_2" stroke="#8fa0d5"/><use href="#L0_0" stroke="#8791d1"/><use href="#L1_2" stroke="#8fa0d5"/><use href="#L1_0" stroke="#8791d1"/><use href="#L0_1" stroke="#8288cd"/><use href="#D0_1" stroke="#8288cd"/><use href="#D1_0" stroke="#8791d1"/><use href="#D1_2" stroke="#8fa0d5"/><use href="#D0_0" stroke="#8791d1"/><use href="#D1_1" stroke="#8288cd"/><use href="#D0_2" stroke="#8fa0d5"/></g><text x="318.1" y="673.2" font-size="10.2" text-anchor="middle" fill="#111" stroke="#111" stroke-width="0.1">EPCR</text><path d="M272.53 738.61L286.58 762.07M329.52 733.06L358.99 751.78M286.58 762.07L358.99 751.78" fill="none" stroke="#383838" stroke-width="0.95"/><path d="M270.70 677.30L272.53 738.61M272.53 738.61L329.52 733.06" fill="none" stroke="#666" stroke-width="1.0"/><path d="M329.42 677.47L329.52 733.06" fill="none" stroke="#555" stroke-width="1.0"/><path d="M362.12 677.97L358.99 751.78" fill="none" stroke="#666" stroke-width="1.0"/><path d="M270.70 677.30L362.12 677.97" fill="none" stroke="#888" stroke-width="1.0"/><path d="M270.33 737.05L268.66 689.90" stroke="#333" stroke-width="0.8" fill="none"/><path d="M268.56 686.90L269.56 689.86L267.76 689.93Z" fill="#333"/><path d="M281.93 760.96L274.16 746.52" stroke="#333" stroke-width="0.8" fill="none"/><path d="M272.74 743.88L274.95 746.09L273.37 746.94Z" fill="#333"/><path d="M351.78 755.80L301.85 763.14" stroke="#333" stroke-width="0.8" fill="none"/><path d="M298.88 763.57L301.72 762.25L301.98 764.03Z" fill="#333"/><text x="0" y="0" transform="translate(265.20,714.30) rotate(90)" font-size="6.2" text-anchor="middle" dy="0.36em" fill="#111" stroke="#111" stroke-width="0.12">DC2</text><text x="0" y="0" transform="translate(272.90,754.50) rotate(60)" font-size="6.2" text-anchor="middle" dy="0.36em" fill="#111" stroke="#111" stroke-width="0.12">DC3</text><text x="0" y="0" transform="translate(329.50,765.90) rotate(-5)" font-size="6.2" text-anchor="middle" dy="0.36em" fill="#111" stroke="#111" stroke-width="0.12">DC1</text><g transform="translate(270.70,677.30) scale(0.5224,0.5548)" stroke-width="1.6" stroke-linecap="round" fill="none"><use href="#a1_2" stroke="#6d6dc1"/><use href="#a1_1" stroke="#6d6dc1"/><use href="#a1_0" stroke="#6d6dc1"/><use href="#a0_0" stroke="#6d6dc1"/><use href="#a0_2" stroke="#6d6dc1"/><use href="#a0_1" stroke="#6d6dc1"/><use href="#a3_0" stroke="#6f70c2"/><use href="#a2_2" stroke="#6f70c2"/><use href="#a4_1" stroke="#7173c3"/><use href="#a3_2" stroke="#6f70c2"/><use href="#a3_1" stroke="#6f70c2"/><use href="#a2_0" stroke="#6f70c2"/><use href="#a2_1" stroke="#6f70c2"/><use href="#a4_2" stroke="#7173c3"/><use href="#a4_0" stroke="#7173c3"/><use href="#a5_0" stroke="#7173c3"/><use href="#a6_2" stroke="#757ac6"/><use href="#a7_1" stroke="#7980c9"/><use href="#a6_1" stroke="#757ac6"/><use href="#a6_0" stroke="#757ac6"/><use href="#a5_2" stroke="#7173c3"/><use href="#a7_2" stroke="#7980c9"/><use href="#a7_0" stroke="#7980c9"/><use href="#a5_1" stroke="#7173c3"/><use href="#a8_1" stroke="#7c86cc"/><use href="#a8_2" stroke="#7c86cc"/><use href="#a8_0" stroke="#7c86cc"/><use href="#a9_2" stroke="#808cce"/><use href="#a9_1" stroke="#808cce"/><use href="#a9_0" stroke="#808cce"/><use href="#J0_2" stroke="#7980c9"/><use href="#J1_1" stroke="#8799d2"/><use href="#J0_0" stroke="#7e89ce"/><use href="#J1_0" stroke="#7e89ce"/><use href="#J1_2" stroke="#7980c9"/><use href="#J0_1" stroke="#8799d2"/><use href="#T1_2" stroke="#eaa62f"/><use href="#T1_0" stroke="#bf742f"/><use href="#T0_1" stroke="#d98c2f"/><use href="#T1_1" stroke="#d98c2f"/><use href="#T0_0" stroke="#bf742f"/><use href="#T0_2" stroke="#eaa62f"/><use href="#U0_2" stroke="#cbd998"/><use href="#U0_1" stroke="#e2da5c"/><use href="#U0_0" stroke="#f2d52f"/><use href="#M0_0" stroke="#98b8dc"/><use href="#M1_2" stroke="#98b8dc"/><use href="#M0_1" stroke="#8a9fd4"/><use href="#M1_0" stroke="#8799d2"/><use href="#M0_2" stroke="#acd0d6"/><use href="#M1_1" stroke="#7e89ce"/><use href="#R1_1" stroke="#7e89ce"/><use href="#R0_0" stroke="#8799d2"/><use href="#R1_2" stroke="#8fa8d7"/><use href="#R0_2" stroke="#8fa8d7"/><use href="#R1_0" stroke="#8799d2"/><use href="#R0_1" stroke="#7e89ce"/><use href="#O0_2" stroke="#8fa8d7"/><use href="#O0_0" stroke="#8799d2"/><use href="#O0_1" stroke="#7e89ce"/><use href="#L1_1" stroke="#757ac6"/><use href="#L0_2" stroke="#8392d0"/><use href="#L0_0" stroke="#7980c9"/><use href="#L1_2" stroke="#8392d0"/><use href="#L1_0" stroke="#7980c9"/><use href="#L0_1" stroke="#757ac6"/><use href="#D0_1" stroke="#7173c3"/><use href="#D1_0" stroke="#757ac6"/><use href="#D1_2" stroke="#7c86cc"/><use href="#D0_0" stroke="#757ac6"/><use href="#D1_1" stroke="#7173c3"/><use href="#D0_2" stroke="#7c86cc"/></g><text x="441.9" y="673.2" font-size="10.2" text-anchor="middle" fill="#111" stroke="#111" stroke-width="0.1">FSC-H</text><path d="M394.13 738.61L408.18 762.07M451.12 733.06L480.59 751.78M408.18 762.07L480.59 751.78" fill="none" stroke="#383838" stroke-width="0.95"/><path d="M392.30 677.30L394.13 738.61M394.13 738.61L451.12 733.06" fill="none" stroke="#666" stroke-width="1.0"/><path d="M451.02 677.47L451.12 733.06" fill="none" stroke="#555" stroke-width="1.0"/><path d="M483.72 677.97L480.59 751.78" fill="none" stroke="#666" stroke-width="1.0"/><path d="M392.30 677.30L483.72 677.97" fill="none" stroke="#888" stroke-width="1.0"/><path d="M391.93 737.05L390.26 689.90" stroke="#333" stroke-width="0.8" fill="none"/><path d="M390.16 686.90L391.16 689.86L389.36 689.93Z" fill="#333"/><path d="M403.53 760.96L395.76 746.52" stroke="#333" stroke-width="0.8" fill="none"/><path d="M394.34 743.88L396.55 746.09L394.97 746.94Z" fill="#333"/><path d="M473.38 755.80L423.45 763.14" stroke="#333" stroke-width="0.8" fill="none"/><path d="M420.48 763.57L423.32 762.25L423.58 764.03Z" fill="#333"/><text x="0" y="0" transform="translate(386.80,714.30) rotate(90)" font-size="6.2" text-anchor="middle" dy="0.36em" fill="#111" stroke="#111" stroke-width="0.12">DC2</text><text x="0" y="0" transform="translate(394.50,754.50) rotate(60)" font-size="6.2" text-anchor="middle" dy="0.36em" fill="#111" stroke="#111" stroke-width="0.12">DC3</text><text x="0" y="0" transform="translate(451.10,765.90) rotate(-5)" font-size="6.2" text-anchor="middle" dy="0.36em" fill="#111" stroke="#111" stroke-width="0.12">DC1</text><g transform="translate(392.30,677.30) scale(0.5224,0.5548)" stroke-width="1.6" stroke-linecap="round" fill="none"><use href="#a1_2" stroke="#f0dd5d"/><use href="#a1_1" stroke="#f0dd5d"/><use href="#a1_0" stroke="#f0dd5d"/><use href="#a0_0" stroke="#edde67"/><use href="#a0_2" stroke="#edde67"/><use href="#a0_1" stroke="#edde67"/><use href="#a3_0" stroke="#f4dc52"/><use href="#a2_2" stroke="#f4dc52"/><use href="#a4_1" stroke="#f4dc52"/><use href="#a3_2" stroke="#f4dc52"/><use href="#a3_1" stroke="#f4dc52"/><use href="#a2_0" stroke="#f4dc52"/><use href="#a2_1" stroke="#f4dc52"/><use href="#a4_2" stroke="#f4dc52"/><use href="#a4_0" stroke="#f4dc52"/><use href="#a5_0" stroke="#f4dc52"/><use href="#a6_2" stroke="#f0dd5d"/><use href="#a7_1" stroke="#edde67"/><use href="#a6_1" stroke="#f0dd5d"/><use href="#a6_0" stroke="#f0dd5d"/><use href="#a5_2" stroke="#f4dc52"/><use href="#a7_2" stroke="#edde67"/><use href="#a7_0" stroke="#edde67"/><use href="#a5_1" stroke="#f4dc52"/><use href="#a8_1" stroke="#e7e078"/><use href="#a8_2" stroke="#e7e078"/><use href="#a8_0" stroke="#e7e078"/><use href="#a9_2" stroke="#dbe199"/><use href="#a9_1" stroke="#dbe199"/><use href="#a9_0" stroke="#dbe199"/><use href="#J0_2" stroke="#bad8dd"/><use href="#J1_1" stroke="#e2e288"/><use href="#J0_0" stroke="#d3dfa9"/><use href="#J1_0" stroke="#d3dfa9"/><use href="#J1_2" stroke="#bad8dd"/><use href="#J0_1" stroke="#e2e288"/><use href="#T1_2" stroke="#b3d0df"/><use href="#T1_0" stroke="#a9c4e2"/><use href="#T0_1" stroke="#acc8e1"/><use href="#T1_1" stroke="#acc8e1"/><use href="#T0_0" stroke="#a9c4e2"/><use href="#T0_2" stroke="#b3d0df"/><use href="#U0_2" stroke="#b7d4de"/><use href="#U0_1" stroke="#a6bfe0"/><use href="#U0_0" stroke="#a9c4e2"/><use href="#M0_0" stroke="#aecae0"/><use href="#M1_2" stroke="#bedcdc"/><use href="#M0_1" stroke="#a9c4e2"/><use href="#M1_0" stroke="#aecae0"/><use href="#M0_2" stroke="#bedcdc"/><use href="#M1_1" stroke="#a9c4e2"/><use href="#R1_1" stroke="#a6bfe0"/><use href="#R0_0" stroke="#a9c4e2"/><use href="#R1_2" stroke="#b7d4de"/><use href="#R0_2" stroke="#b7d4de"/><use href="#R1_0" stroke="#a9c4e2"/><use href="#R0_1" stroke="#a6bfe0"/><use href="#O0_2" stroke="#b3d0df"/><use href="#O0_0" stroke="#acc8e1"/><use href="#O0_1" stroke="#a6bfe0"/><use href="#L1_1" stroke="#b7d4de"/><use href="#L0_2" stroke="#e7e078"/><use href="#L0_0" stroke="#c9dec3"/><use href="#L1_2" stroke="#e7e078"/><use href="#L1_0" stroke="#c9dec3"/><use href="#L0_1" stroke="#b7d4de"/><use href="#D0_1" stroke="#f2c752"/><use href="#D1_0" stroke="#eab052"/><use href="#D1_2" stroke="#dc9a52"/><use href="#D0_0" stroke="#eab052"/><use href="#D1_1" stroke="#f2c752"/><use href="#D0_2" stroke="#dc9a52"/></g><linearGradient id="gc" x1="0" y1="0" x2="0" y2="1">
<stop offset="0" stop-color="#8e1a1e"/><stop offset="0.12" stop-color="#b3161c"/><stop offset="0.3" stop-color="#e8161e"/>
<stop offset="0.42" stop-color="#ee2028"/><stop offset="0.52" stop-color="#e05058"/><stop offset="0.6" stop-color="#e07a80"/>
<stop offset="0.68" stop-color="#d6b4b6"/><stop offset="0.75" stop-color="#cccccc"/><stop offset="0.9" stop-color="#c0c0c0"/><stop offset="1" stop-color="#a6a6a6"/></linearGradient>
<linearGradient id="gd" x1="0" y1="0" x2="0" y2="1">
<stop offset="0" stop-color="#c07a1c"/><stop offset="0.06" stop-color="#e4961c"/><stop offset="0.2" stop-color="#f0aa18"/>
<stop offset="0.36" stop-color="#f4cc08"/><stop offset="0.46" stop-color="#e6d624"/><stop offset="0.56" stop-color="#c4d070"/>
<stop offset="0.66" stop-color="#a2d0d8"/><stop offset="0.76" stop-color="#8cb0d8"/><stop offset="0.87" stop-color="#7880c0"/><stop offset="1" stop-color="#584a9a"/></linearGradient><rect x="499.4" y="416.3" width="8.4" height="103" fill="url(#gc)" stroke="#6a6a6a" stroke-width="0.6"/><text x="503.6" y="410.9" font-size="8.1" text-anchor="middle" fill="#222">High</text><text x="504.9" y="530.1" font-size="8.1" text-anchor="middle" fill="#222">Low</text><rect x="501.2" y="656.5" width="8.4" height="101.8" fill="url(#gd)" stroke="#6a6a6a" stroke-width="0.6"/><text x="505.8" y="652.7" font-size="8.1" text-anchor="middle" fill="#222">High</text><text x="505.2" y="770.0" font-size="8.1" text-anchor="middle" fill="#222">Low</text></svg>
<div class="frame"></div>
</body></html>
